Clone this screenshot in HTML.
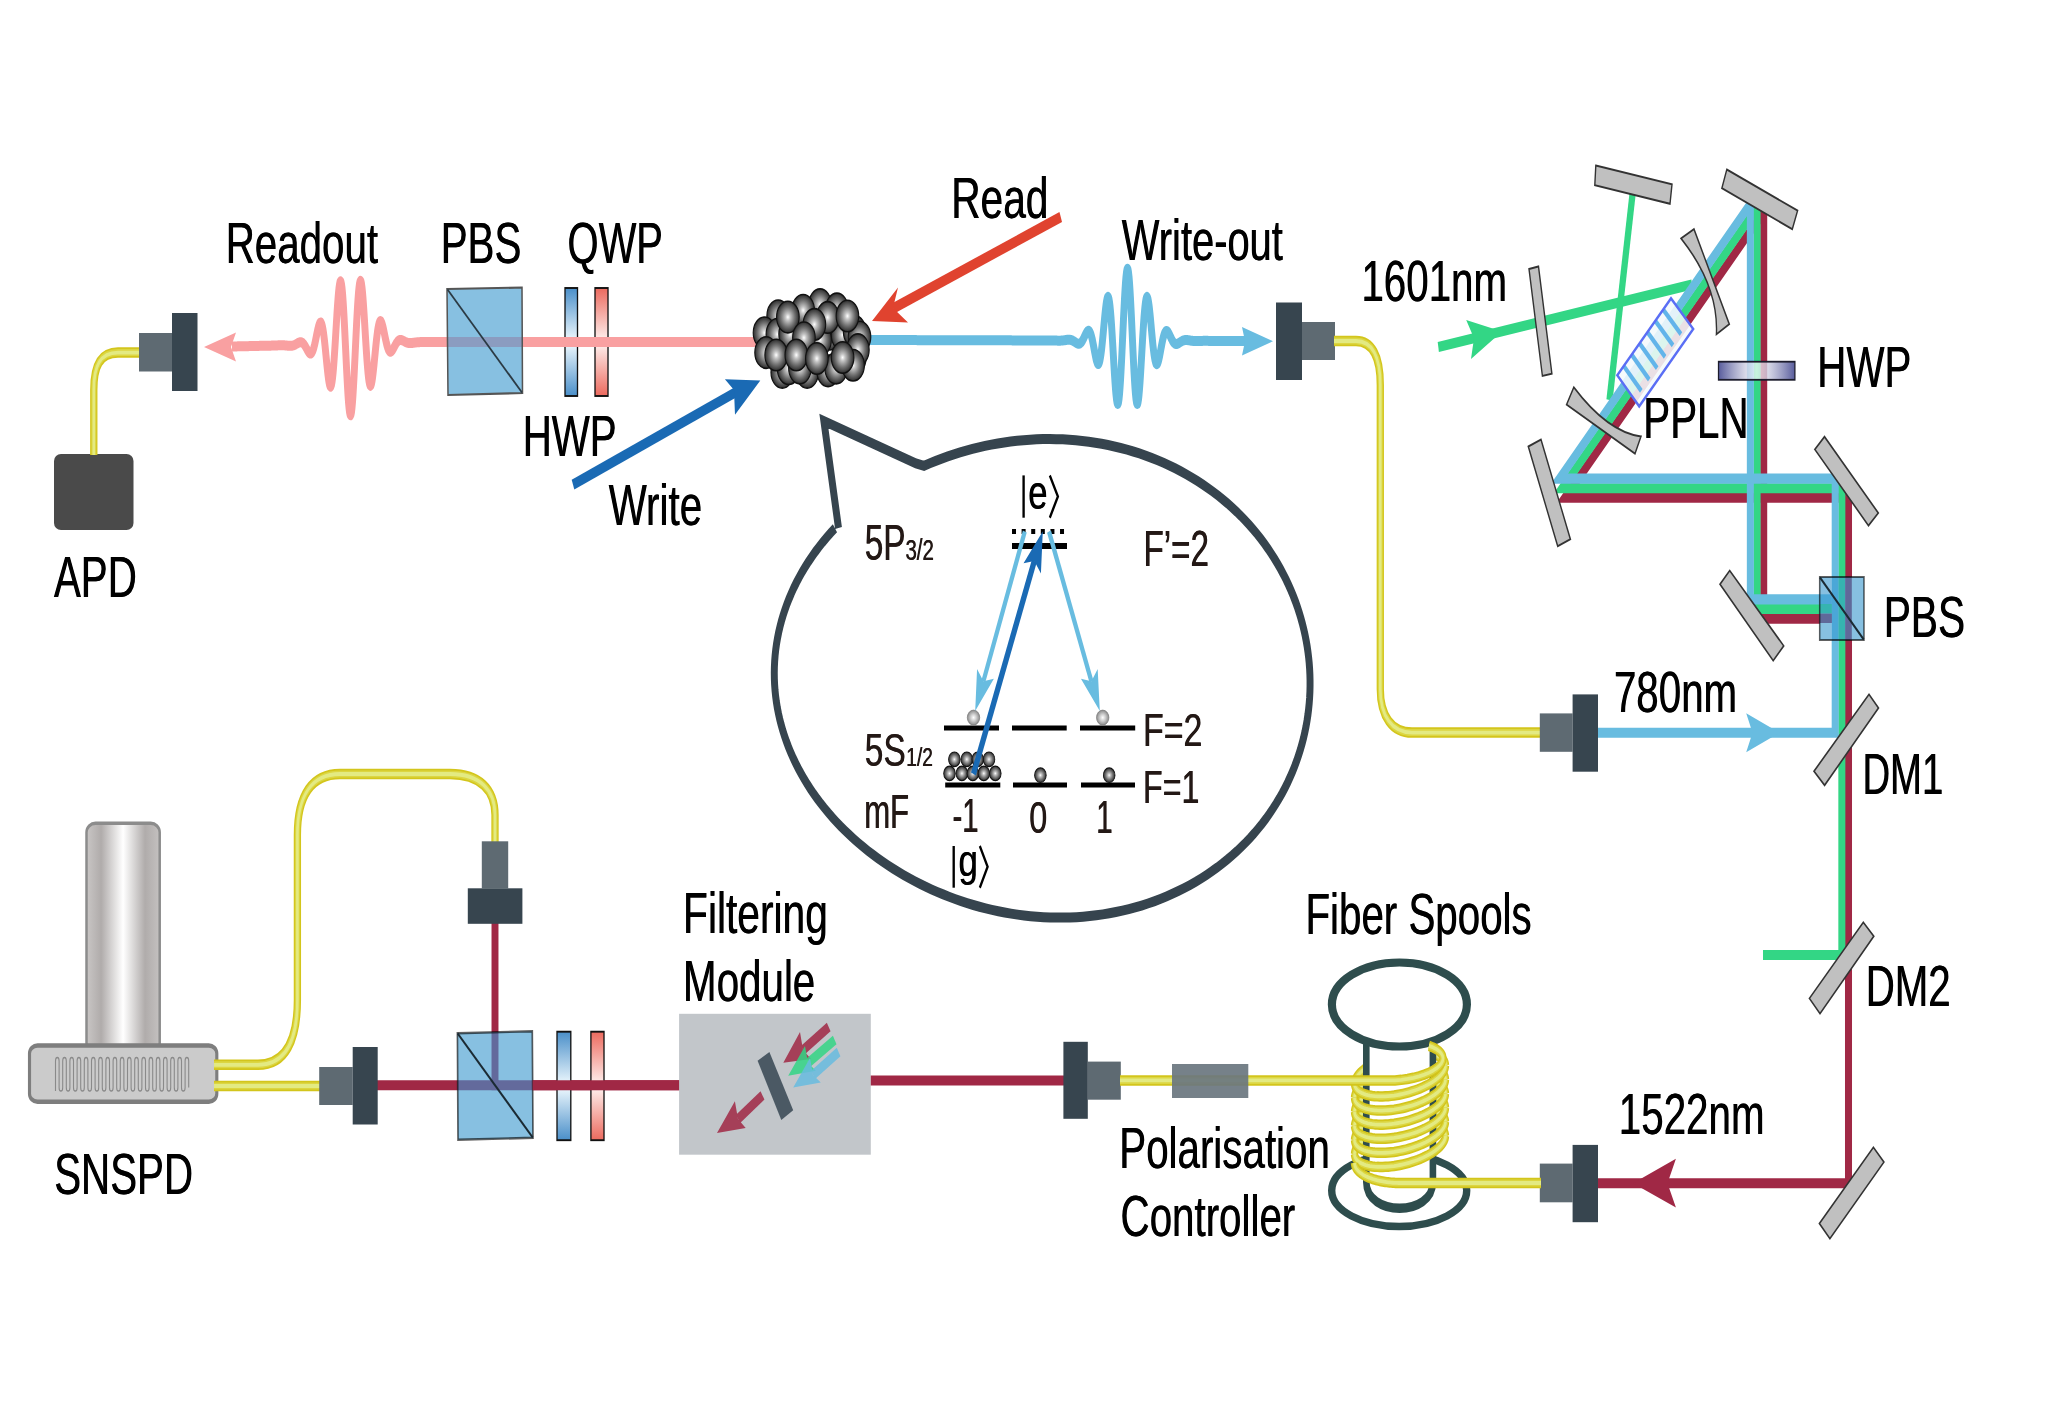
<!DOCTYPE html>
<html><head><meta charset="utf-8"><style>
html,body{margin:0;padding:0;background:#fff;width:2048px;height:1417px;overflow:hidden}
svg{display:block;will-change:transform}
text{font-family:"Liberation Sans",sans-serif}
</style></head><body>
<svg width="2048" height="1417" viewBox="0 0 2048 1417">
<rect x="0" y="0" width="2048" height="1417" fill="#ffffff"/>
<g transform="scale(0.695,1)">
<defs>
<linearGradient id="gPlateB" x1="0" y1="0" x2="0" y2="1">
 <stop offset="0" stop-color="#4a8fc9"/><stop offset="0.5" stop-color="#f2fbff"/><stop offset="1" stop-color="#4a8fc9"/>
</linearGradient>
<linearGradient id="gPlateR" x1="0" y1="0" x2="0" y2="1">
 <stop offset="0" stop-color="#ec6a5e"/><stop offset="0.5" stop-color="#fff4f2"/><stop offset="1" stop-color="#ec6a5e"/>
</linearGradient>
<radialGradient id="gBall" cx="0.5" cy="0.5" r="0.5">
 <stop offset="0" stop-color="#ffffff"/><stop offset="0.22" stop-color="#c4c4c4"/><stop offset="0.62" stop-color="#727272"/><stop offset="1" stop-color="#2c2c2c"/>
</radialGradient>
<radialGradient id="gBallL" cx="0.5" cy="0.5" r="0.5">
 <stop offset="0" stop-color="#ffffff"/><stop offset="0.5" stop-color="#c8c8c8"/><stop offset="1" stop-color="#8a8a8a"/>
</radialGradient>
<linearGradient id="gCyl" x1="0" y1="0" x2="1" y2="0">
 <stop offset="0" stop-color="#c9c6c5"/><stop offset="0.2" stop-color="#b0acab"/><stop offset="0.5" stop-color="#ffffff"/><stop offset="0.8" stop-color="#b0acab"/><stop offset="1" stop-color="#c4c1c0"/>
</linearGradient>
<linearGradient id="gHWP" x1="0" y1="0" x2="1" y2="0">
 <stop offset="0" stop-color="#585c9c"/><stop offset="0.5" stop-color="#ffffff" stop-opacity="0.72"/><stop offset="1" stop-color="#585c9c"/>
</linearGradient>
</defs>
<rect x="77.7" y="454" width="114.39" height="76" fill="#4a4a4a" rx="10.07" ry="7" />
<path d="M 200,352.6 L 169.78,352.6 C 143.88,352.6 134.96,366 134.96,390 L 134.96,455" fill="none" stroke="#d3c51c" stroke-width="10.5" stroke-linecap="butt" stroke-linejoin="round" />
<path d="M 200,352.6 L 169.78,352.6 C 143.88,352.6 134.96,366 134.96,390 L 134.96,455" fill="none" stroke="#dcd642" stroke-width="7" stroke-linecap="butt" stroke-linejoin="round" />
<path d="M 200,352.6 L 169.78,352.6 C 143.88,352.6 134.96,366 134.96,390 L 134.96,455" fill="none" stroke="#e3ea82" stroke-width="3.8" stroke-linecap="butt" stroke-linejoin="round" />
<rect x="200" y="333" width="47.48" height="38.5" fill="#5e6a72" />
<rect x="247.48" y="313" width="36.69" height="78" fill="#37454f" />
<rect x="812.95" y="288" width="17.99" height="108" fill="url(#gPlateB)" stroke="#111" stroke-width="1.9" />
<rect x="856.12" y="288" width="18.71" height="108" fill="url(#gPlateR)" stroke="#111" stroke-width="1.9" />
<polyline points="333.81,346.5 334.53,346.49 335.25,346.48 335.97,346.47 336.69,346.45 337.41,346.44 338.13,346.43 338.85,346.42 339.57,346.41 340.29,346.4 341.01,346.39 341.73,346.37 342.45,346.36 343.17,346.35 343.88,346.34 344.6,346.33 345.32,346.32 346.04,346.31 346.76,346.3 347.48,346.28 348.2,346.27 348.92,346.26 349.64,346.25 350.36,346.24 351.08,346.23 351.8,346.22 352.52,346.2 353.24,346.19 353.96,346.18 354.68,346.17 355.4,346.16 356.12,346.15 356.83,346.14 357.55,346.13 358.27,346.11 358.99,346.1 359.71,346.09 360.43,346.08 361.15,346.07 361.87,346.06 362.59,346.05 363.31,346.03 364.03,346.02 364.75,346.01 365.47,346 366.19,345.99 366.91,345.98 367.63,345.97 368.35,345.95 369.06,345.94 369.78,345.93 370.5,345.92 371.22,345.91 371.94,345.9 372.66,345.88 373.38,345.87 374.1,345.86 374.82,345.85 375.54,345.84 376.26,345.83 376.98,345.82 377.7,345.81 378.42,345.79 379.14,345.78 379.86,345.77 380.58,345.76 381.29,345.75 382.01,345.74 382.73,345.73 383.45,345.72 384.17,345.71 384.89,345.7 385.61,345.69 386.33,345.68 387.05,345.67 387.77,345.66 388.49,345.65 389.21,345.64 389.93,345.63 390.65,345.62 391.37,345.6 392.09,345.59 392.81,345.57 393.53,345.56 394.24,345.54 394.96,345.52 395.68,345.5 396.4,345.48 397.12,345.46 397.84,345.44 398.56,345.41 399.28,345.39 400,345.37 400.72,345.35 401.44,345.33 402.16,345.31 402.88,345.29 403.6,345.28 404.32,345.27 405.04,345.27 405.76,345.27 406.47,345.27 407.19,345.28 407.91,345.3 408.63,345.33 409.35,345.36 410.07,345.4 410.79,345.44 411.51,345.49 412.23,345.54 412.95,345.59 413.67,345.64 414.39,345.69 415.11,345.74 415.83,345.78 416.55,345.81 417.27,345.82 417.99,345.82 418.71,345.8 419.42,345.76 420.14,345.69 420.86,345.59 421.58,345.47 422.3,345.32 423.02,345.14 423.74,344.93 424.46,344.7 425.18,344.44 425.9,344.17 426.62,343.88 427.34,343.59 428.06,343.3 428.78,343.03 429.5,342.78 430.22,342.56 430.94,342.38 431.65,342.26 432.37,342.21 433.09,342.23 433.81,342.34 434.53,342.54 435.25,342.84 435.97,343.24 436.69,343.74 437.41,344.34 438.13,345.04 438.85,345.81 439.57,346.66 440.29,347.55 441.01,348.48 441.73,349.41 442.45,350.31 443.17,351.17 443.88,351.95 444.6,352.61 445.32,353.12 446.04,353.45 446.76,353.57 447.48,353.46 448.2,353.1 448.92,352.46 449.64,351.54 450.36,350.34 451.08,348.86 451.8,347.12 452.52,345.15 453.24,342.97 453.96,340.63 454.68,338.18 455.4,335.68 456.12,333.2 456.83,330.8 457.55,328.57 458.27,326.57 458.99,324.89 459.71,323.59 460.43,322.74 461.15,322.4 461.87,322.62 462.59,323.44 463.31,324.88 464.03,326.94 464.75,329.62 465.47,332.88 466.19,336.67 466.91,340.94 467.63,345.58 468.35,350.51 469.06,355.6 469.78,360.74 470.5,365.77 471.22,370.57 471.94,374.98 472.66,378.87 473.38,382.1 474.1,384.55 474.82,386.1 475.54,386.68 476.26,386.22 476.98,384.67 477.7,382.02 478.42,378.29 479.14,373.53 479.86,367.82 480.58,361.26 481.29,353.99 482.01,346.17 482.73,337.99 483.45,329.65 484.17,321.35 484.89,313.31 485.61,305.76 486.33,298.9 487.05,292.93 487.77,288.05 488.49,284.39 489.21,282.11 489.93,281.28 490.65,281.97 491.37,284.2 492.09,287.95 492.81,293.15 493.53,299.7 494.24,307.46 494.96,316.24 495.68,325.85 496.4,336.04 497.12,346.57 497.84,357.17 498.56,367.58 499.28,377.51 500,386.73 500.72,394.97 501.44,402.04 502.16,407.73 502.88,411.91 503.6,414.46 504.32,415.31 505.04,414.43 505.76,411.87 506.47,407.66 507.19,401.95 507.91,394.86 508.63,386.59 509.35,377.35 510.07,367.4 510.79,356.97 511.51,346.35 512.23,335.79 512.95,325.57 513.67,315.95 514.39,307.14 515.11,299.36 515.83,292.79 516.55,287.57 517.27,283.8 517.99,281.54 518.71,280.83 519.42,281.63 520.14,283.89 520.86,287.52 521.58,292.39 522.3,298.33 523.02,305.17 523.74,312.7 524.46,320.71 525.18,328.99 525.9,337.31 526.62,345.47 527.34,353.26 528.06,360.51 528.78,367.05 529.5,372.74 530.22,377.48 530.94,381.18 531.65,383.81 532.37,385.33 533.09,385.78 533.81,385.17 534.53,383.59 535.25,381.12 535.97,377.87 536.69,373.96 537.41,369.52 538.13,364.7 538.85,359.64 539.57,354.49 540.29,349.37 541.01,344.42 541.73,339.75 542.45,335.47 543.17,331.65 543.88,328.37 544.6,325.67 545.32,323.58 546.04,322.12 546.76,321.28 547.48,321.04 548.2,321.35 548.92,322.18 549.64,323.45 550.36,325.12 551.08,327.09 551.8,329.3 552.52,331.68 553.24,334.14 553.96,336.61 554.68,339.04 555.4,341.36 556.12,343.51 556.83,345.47 557.55,347.18 558.27,348.64 558.99,349.81 559.71,350.71 560.43,351.32 561.15,351.67 561.87,351.75 562.59,351.61 563.31,351.25 564.03,350.72 564.75,350.04 565.47,349.24 566.19,348.36 566.91,347.43 567.63,346.48 568.35,345.53 569.06,344.61 569.78,343.74 570.5,342.95 571.22,342.23 571.94,341.61 572.66,341.08 573.38,340.66 574.1,340.34 574.82,340.11 575.54,339.98 576.26,339.94 576.98,339.97 577.7,340.06 578.42,340.22 579.14,340.41 579.86,340.64 580.58,340.89 581.29,341.16 582.01,341.43 582.73,341.69 583.45,341.94 584.17,342.17 584.89,342.38 585.61,342.57 586.33,342.73 587.05,342.86 587.77,342.96 588.49,343.03 589.21,343.07 589.93,343.09 590.65,343.09 591.37,343.07 592.09,343.03 592.81,342.98 593.53,342.92 594.24,342.85 594.96,342.78 595.68,342.71 596.4,342.63 597.12,342.56 597.84,342.49 598.56,342.42 599.28,342.36 600,342.31 600.72,342.26 601.44,342.22 602.16,342.18 602.88,342.15 603.6,342.13 604.32,342.11 605.04,342.1 605.76,342.09 606.47,342.08 607.19,342.08 607.91,342.07 608.63,342.07 609.35,342.07 610.07,342.07 610.79,342.07 611.51,342.07 612.23,342.07 612.95,342.07 613.67,342.07 614.39,342.06 615.11,342.06 615.83,342.05 616.55,342.04 617.27,342.04 617.99,342.03 618.71,342.02 619.42,342.02 620.14,342.02 620.86,342.02 621.58,342.01 622.3,342.01 623.02,342.01 623.74,342.01 624.46,342.01 625.18,342.01 625.9,342.01 626.62,342 627.34,342 628.06,342 628.78,342 629.5,342 630.22,342 630.94,342 631.65,342 632.37,342 633.09,342 633.81,342 634.53,342 635.25,342 635.97,342 636.69,342 637.41,342 638.13,342 638.85,342 639.57,342 640.29,342 641.01,342 641.73,342 642.45,342 643.17,342 643.88,342 644.6,342 645.32,342 646.04,342 646.76,342 647.48,342 648.2,342 648.92,342 649.64,342 650.36,342 651.08,342 651.8,342 652.52,342 653.24,342 653.96,342 654.68,342 655.4,342 656.12,342 656.83,342 657.55,342 658.27,342 658.99,342 659.71,342 660.43,342 661.15,342 661.87,342 662.59,342 663.31,342 664.03,342 664.75,342 665.47,342 666.19,342 666.91,342 667.63,342 668.35,342 669.06,342 669.78,342 670.5,342 671.22,342 671.94,342 672.66,342 673.38,342 674.1,342 674.82,342 675.54,342 676.26,342 676.98,342 677.7,342 678.42,342 679.14,342 679.86,342 680.58,342 681.29,342 682.01,342 682.73,342 683.45,342 684.17,342 684.89,342 685.61,342 686.33,342 687.05,342 687.77,342 688.49,342 689.21,342 689.93,342 690.65,342 691.37,342 692.09,342 692.81,342 693.53,342 694.24,342 694.96,342 695.68,342 696.4,342 697.12,342 697.84,342 698.56,342 699.28,342 700,342 700.72,342 701.44,342 702.16,342 702.88,342 703.6,342 704.32,342 705.04,342 705.76,342 706.47,342 707.19,342 707.91,342 708.63,342 709.35,342 710.07,342 710.79,342 711.51,342 712.23,342 712.95,342 713.67,342 714.39,342 715.11,342 715.83,342 716.55,342 717.27,342 717.99,342 718.71,342 719.42,342 720.14,342 720.86,342 721.58,342 722.3,342 723.02,342 723.74,342 724.46,342 725.18,342 725.9,342 726.62,342 727.34,342 728.06,342 728.78,342 729.5,342 730.22,342 730.94,342 731.65,342 732.37,342 733.09,342 733.81,342 734.53,342 735.25,342 735.97,342 736.69,342 737.41,342 738.13,342 738.85,342 739.57,342 740.29,342 741.01,342 741.73,342 742.45,342 743.17,342 743.88,342 744.6,342 745.32,342 746.04,342 746.76,342 747.48,342 748.2,342 748.92,342 749.64,342 750.36,342 751.08,342 751.8,342 752.52,342 753.24,342 753.96,342 754.68,342 755.4,342 756.12,342 756.83,342 757.55,342 758.27,342 758.99,342 759.71,342 760.43,342 761.15,342 761.87,342 762.59,342 763.31,342 764.03,342 764.75,342 765.47,342 766.19,342 766.91,342 767.63,342 768.35,342 769.06,342 769.78,342 770.5,342 771.22,342 771.94,342 772.66,342 773.38,342 774.1,342 774.82,342 775.54,342 776.26,342 776.98,342 777.7,342 778.42,342 779.14,342 779.86,342 780.58,342 781.29,342 782.01,342 782.73,342 783.45,342 784.17,342 784.89,342 785.61,342 786.33,342 787.05,342 787.77,342 788.49,342 789.21,342 789.93,342 790.65,342 791.37,342 792.09,342 792.81,342 793.53,342 794.24,342 794.96,342 795.68,342 796.4,342 797.12,342 797.84,342 798.56,342 799.28,342 800,342 800.72,342 801.44,342 802.16,342 802.88,342 803.6,342 804.32,342 805.04,342 805.76,342 806.47,342 807.19,342 807.91,342 808.63,342 809.35,342 810.07,342 810.79,342 811.51,342 812.23,342 812.95,342 813.67,342 814.39,342 815.11,342 815.83,342 816.55,342 817.27,342 817.99,342 818.71,342 819.42,342 820.14,342 820.86,342 821.58,342 822.3,342 823.02,342 823.74,342 824.46,342 825.18,342 825.9,342 826.62,342 827.34,342 828.06,342 828.78,342 829.5,342 830.22,342 830.94,342 831.65,342 832.37,342 833.09,342 833.81,342 834.53,342 835.25,342 835.97,342 836.69,342 837.41,342 838.13,342 838.85,342 839.57,342 840.29,342 841.01,342 841.73,342 842.45,342 843.17,342 843.88,342 844.6,342 845.32,342 846.04,342 846.76,342 847.48,342 848.2,342 848.92,342 849.64,342 850.36,342 851.08,342 851.8,342 852.52,342 853.24,342 853.96,342 854.68,342 855.4,342 856.12,342 856.83,342 857.55,342 858.27,342 858.99,342 859.71,342 860.43,342 861.15,342 861.87,342 862.59,342 863.31,342 864.03,342 864.75,342 865.47,342 866.19,342 866.91,342 867.63,342 868.35,342 869.06,342 869.78,342 870.5,342 871.22,342 871.94,342 872.66,342 873.38,342 874.1,342 874.82,342 875.54,342 876.26,342 876.98,342 877.7,342 878.42,342 879.14,342 879.86,342 880.58,342 881.29,342 882.01,342 882.73,342 883.45,342 884.17,342 884.89,342 885.61,342 886.33,342 887.05,342 887.77,342 888.49,342 889.21,342 889.93,342 890.65,342 891.37,342 892.09,342 892.81,342 893.53,342 894.24,342 894.96,342 895.68,342 896.4,342 897.12,342 897.84,342 898.56,342 899.28,342 900,342 900.72,342 901.44,342 902.16,342 902.88,342 903.6,342 904.32,342 905.04,342 905.76,342 906.47,342 907.19,342 907.91,342 908.63,342 909.35,342 910.07,342 910.79,342 911.51,342 912.23,342 912.95,342 913.67,342 914.39,342 915.11,342 915.83,342 916.55,342 917.27,342 917.99,342 918.71,342 919.42,342 920.14,342 920.86,342 921.58,342 922.3,342 923.02,342 923.74,342 924.46,342 925.18,342 925.9,342 926.62,342 927.34,342 928.06,342 928.78,342 929.5,342 930.22,342 930.94,342 931.65,342 932.37,342 933.09,342 933.81,342 934.53,342 935.25,342 935.97,342 936.69,342 937.41,342 938.13,342 938.85,342 939.57,342 940.29,342 941.01,342 941.73,342 942.45,342 943.17,342 943.88,342 944.6,342 945.32,342 946.04,342 946.76,342 947.48,342 948.2,342 948.92,342 949.64,342 950.36,342 951.08,342 951.8,342 952.52,342 953.24,342 953.96,342 954.68,342 955.4,342 956.12,342 956.83,342 957.55,342 958.27,342 958.99,342 959.71,342 960.43,342 961.15,342 961.87,342 962.59,342 963.31,342 964.03,342 964.75,342 965.47,342 966.19,342 966.91,342 967.63,342 968.35,342 969.06,342 969.78,342 970.5,342 971.22,342 971.94,342 972.66,342 973.38,342 974.1,342 974.82,342 975.54,342 976.26,342 976.98,342 977.7,342 978.42,342 979.14,342 979.86,342 980.58,342 981.29,342 982.01,342 982.73,342 983.45,342 984.17,342 984.89,342 985.61,342 986.33,342 987.05,342 987.77,342 988.49,342 989.21,342 989.93,342 990.65,342 991.37,342 992.09,342 992.81,342 993.53,342 994.24,342 994.96,342 995.68,342 996.4,342 997.12,342 997.84,342 998.56,342 999.28,342 1000,342 1000.72,342 1001.44,342 1002.16,342 1002.88,342 1003.6,342 1004.32,342 1005.04,342 1005.76,342 1006.47,342 1007.19,342 1007.91,342 1008.63,342 1009.35,342 1010.07,342 1010.79,342 1011.51,342 1012.23,342 1012.95,342 1013.67,342 1014.39,342 1015.11,342 1015.83,342 1016.55,342 1017.27,342 1017.99,342 1018.71,342 1019.42,342 1020.14,342 1020.86,342 1021.58,342 1022.3,342 1023.02,342 1023.74,342 1024.46,342 1025.18,342 1025.9,342 1026.62,342 1027.34,342 1028.06,342 1028.78,342 1029.5,342 1030.22,342 1030.94,342 1031.65,342 1032.37,342 1033.09,342 1033.81,342 1034.53,342 1035.25,342 1035.97,342 1036.69,342 1037.41,342 1038.13,342 1038.85,342 1039.57,342 1040.29,342 1041.01,342 1041.73,342 1042.45,342 1043.17,342 1043.88,342 1044.6,342 1045.32,342 1046.04,342 1046.76,342 1047.48,342 1048.2,342 1048.92,342 1049.64,342 1050.36,342 1051.08,342 1051.8,342 1052.52,342 1053.24,342 1053.96,342 1054.68,342 1055.4,342 1056.12,342 1056.83,342 1057.55,342 1058.27,342 1058.99,342 1059.71,342 1060.43,342 1061.15,342 1061.87,342 1062.59,342 1063.31,342 1064.03,342 1064.75,342 1065.47,342 1066.19,342 1066.91,342 1067.63,342 1068.35,342 1069.06,342 1069.78,342 1070.5,342 1071.22,342 1071.94,342 1072.66,342 1073.38,342 1074.1,342 1074.82,342 1075.54,342 1076.26,342 1076.98,342 1077.7,342 1078.42,342 1079.14,342 1079.86,342 1080.58,342 1081.29,342 1082.01,342 1082.73,342 1083.45,342 1084.17,342 1084.89,342 1085.61,342 1086.33,342 1087.05,342 1087.77,342 1088.49,342 1089.21,342 1089.93,342 1090.65,342 1091.37,342 1092.09,342 1092.81,342 1093.53,342" fill="none" stroke="#f9a0a1" stroke-width="10" stroke-linecap="butt" stroke-linejoin="round" />
<polygon points="293.53,347 339.57,332.5 332.37,347 339.57,361.5" fill="#f9a0a1" />
<polygon points="643.17,289 751.08,287.5 751.8,393 644.6,395" fill="#87c0e1" />
<polyline points="644.6,342 661.87,342 690.65,342 719.42,342 751.51,342" fill="none" stroke="#8b9cc0" stroke-width="10" stroke-linecap="butt" stroke-linejoin="miter" />
<polygon points="643.17,289 751.08,287.5 751.8,393 644.6,395" fill="none" stroke="#555" stroke-width="2.2" stroke-linejoin="miter" />
<line x1="643.88" y1="289.5" x2="751.08" y2="392.5" stroke="#2b3a44" stroke-width="2.2" stroke-linecap="butt" />
<polyline points="1246.04,339.99 1246.76,339.99 1247.48,339.99 1248.2,340 1248.92,340 1249.64,340 1250.36,340 1251.08,340 1251.8,340 1252.52,340 1253.24,340.01 1253.96,340.01 1254.68,340.01 1255.4,340.01 1256.12,340.01 1256.83,340.01 1257.55,340.01 1258.27,340.01 1258.99,340.02 1259.71,340.02 1260.43,340.02 1261.15,340.02 1261.87,340.02 1262.59,340.02 1263.31,340.02 1264.03,340.02 1264.75,340.03 1265.47,340.03 1266.19,340.03 1266.91,340.03 1267.63,340.03 1268.35,340.03 1269.06,340.03 1269.78,340.04 1270.5,340.04 1271.22,340.04 1271.94,340.04 1272.66,340.04 1273.38,340.04 1274.1,340.04 1274.82,340.04 1275.54,340.05 1276.26,340.05 1276.98,340.05 1277.7,340.05 1278.42,340.05 1279.14,340.05 1279.86,340.05 1280.58,340.06 1281.29,340.06 1282.01,340.06 1282.73,340.06 1283.45,340.06 1284.17,340.06 1284.89,340.06 1285.61,340.06 1286.33,340.07 1287.05,340.07 1287.77,340.07 1288.49,340.07 1289.21,340.07 1289.93,340.07 1290.65,340.07 1291.37,340.07 1292.09,340.08 1292.81,340.08 1293.53,340.08 1294.24,340.08 1294.96,340.08 1295.68,340.08 1296.4,340.08 1297.12,340.09 1297.84,340.09 1298.56,340.09 1299.28,340.09 1300,340.09 1300.72,340.09 1301.44,340.09 1302.16,340.09 1302.88,340.1 1303.6,340.1 1304.32,340.1 1305.04,340.1 1305.76,340.1 1306.47,340.1 1307.19,340.1 1307.91,340.1 1308.63,340.11 1309.35,340.11 1310.07,340.11 1310.79,340.11 1311.51,340.11 1312.23,340.11 1312.95,340.11 1313.67,340.12 1314.39,340.12 1315.11,340.12 1315.83,340.12 1316.55,340.12 1317.27,340.12 1317.99,340.12 1318.71,340.12 1319.42,340.13 1320.14,340.13 1320.86,340.13 1321.58,340.13 1322.3,340.13 1323.02,340.13 1323.74,340.13 1324.46,340.14 1325.18,340.14 1325.9,340.14 1326.62,340.14 1327.34,340.14 1328.06,340.14 1328.78,340.14 1329.5,340.14 1330.22,340.15 1330.94,340.15 1331.65,340.15 1332.37,340.15 1333.09,340.15 1333.81,340.15 1334.53,340.15 1335.25,340.15 1335.97,340.16 1336.69,340.16 1337.41,340.16 1338.13,340.16 1338.85,340.16 1339.57,340.16 1340.29,340.16 1341.01,340.17 1341.73,340.17 1342.45,340.17 1343.17,340.17 1343.88,340.17 1344.6,340.17 1345.32,340.17 1346.04,340.17 1346.76,340.18 1347.48,340.18 1348.2,340.18 1348.92,340.18 1349.64,340.18 1350.36,340.18 1351.08,340.18 1351.8,340.19 1352.52,340.19 1353.24,340.19 1353.96,340.19 1354.68,340.19 1355.4,340.19 1356.12,340.19 1356.83,340.19 1357.55,340.2 1358.27,340.2 1358.99,340.2 1359.71,340.2 1360.43,340.2 1361.15,340.2 1361.87,340.2 1362.59,340.2 1363.31,340.21 1364.03,340.21 1364.75,340.21 1365.47,340.21 1366.19,340.21 1366.91,340.21 1367.63,340.21 1368.35,340.22 1369.06,340.22 1369.78,340.22 1370.5,340.22 1371.22,340.22 1371.94,340.22 1372.66,340.22 1373.38,340.22 1374.1,340.23 1374.82,340.23 1375.54,340.23 1376.26,340.23 1376.98,340.23 1377.7,340.23 1378.42,340.23 1379.14,340.23 1379.86,340.24 1380.58,340.24 1381.29,340.24 1382.01,340.24 1382.73,340.24 1383.45,340.24 1384.17,340.24 1384.89,340.25 1385.61,340.25 1386.33,340.25 1387.05,340.25 1387.77,340.25 1388.49,340.25 1389.21,340.25 1389.93,340.25 1390.65,340.26 1391.37,340.26 1392.09,340.26 1392.81,340.26 1393.53,340.26 1394.24,340.26 1394.96,340.26 1395.68,340.27 1396.4,340.27 1397.12,340.27 1397.84,340.27 1398.56,340.27 1399.28,340.27 1400,340.27 1400.72,340.27 1401.44,340.28 1402.16,340.28 1402.88,340.28 1403.6,340.28 1404.32,340.28 1405.04,340.28 1405.76,340.28 1406.47,340.28 1407.19,340.29 1407.91,340.29 1408.63,340.29 1409.35,340.29 1410.07,340.29 1410.79,340.29 1411.51,340.29 1412.23,340.3 1412.95,340.3 1413.67,340.3 1414.39,340.3 1415.11,340.3 1415.83,340.3 1416.55,340.3 1417.27,340.3 1417.99,340.31 1418.71,340.31 1419.42,340.31 1420.14,340.31 1420.86,340.31 1421.58,340.31 1422.3,340.31 1423.02,340.31 1423.74,340.32 1424.46,340.32 1425.18,340.32 1425.9,340.32 1426.62,340.32 1427.34,340.32 1428.06,340.32 1428.78,340.33 1429.5,340.33 1430.22,340.33 1430.94,340.33 1431.65,340.33 1432.37,340.33 1433.09,340.33 1433.81,340.33 1434.53,340.34 1435.25,340.34 1435.97,340.34 1436.69,340.34 1437.41,340.34 1438.13,340.34 1438.85,340.34 1439.57,340.35 1440.29,340.35 1441.01,340.35 1441.73,340.35 1442.45,340.35 1443.17,340.35 1443.88,340.35 1444.6,340.35 1445.32,340.36 1446.04,340.36 1446.76,340.36 1447.48,340.36 1448.2,340.36 1448.92,340.36 1449.64,340.36 1450.36,340.36 1451.08,340.37 1451.8,340.37 1452.52,340.37 1453.24,340.37 1453.96,340.37 1454.68,340.37 1455.4,340.37 1456.12,340.38 1456.83,340.38 1457.55,340.38 1458.27,340.38 1458.99,340.38 1459.71,340.38 1460.43,340.38 1461.15,340.38 1461.87,340.39 1462.59,340.39 1463.31,340.39 1464.03,340.39 1464.75,340.39 1465.47,340.39 1466.19,340.39 1466.91,340.4 1467.63,340.4 1468.35,340.4 1469.06,340.4 1469.78,340.4 1470.5,340.4 1471.22,340.4 1471.94,340.4 1472.66,340.41 1473.38,340.41 1474.1,340.41 1474.82,340.41 1475.54,340.41 1476.26,340.41 1476.98,340.41 1477.7,340.41 1478.42,340.42 1479.14,340.42 1479.86,340.42 1480.58,340.42 1481.29,340.42 1482.01,340.42 1482.73,340.42 1483.45,340.42 1484.17,340.43 1484.89,340.43 1485.61,340.43 1486.33,340.43 1487.05,340.43 1487.77,340.43 1488.49,340.44 1489.21,340.44 1489.93,340.44 1490.65,340.44 1491.37,340.44 1492.09,340.44 1492.81,340.44 1493.53,340.45 1494.24,340.45 1494.96,340.45 1495.68,340.45 1496.4,340.45 1497.12,340.45 1497.84,340.45 1498.56,340.45 1499.28,340.46 1500,340.46 1500.72,340.46 1501.44,340.46 1502.16,340.45 1502.88,340.45 1503.6,340.45 1504.32,340.45 1505.04,340.45 1505.76,340.45 1506.47,340.45 1507.19,340.45 1507.91,340.45 1508.63,340.45 1509.35,340.45 1510.07,340.45 1510.79,340.45 1511.51,340.45 1512.23,340.46 1512.95,340.46 1513.67,340.47 1514.39,340.48 1515.11,340.49 1515.83,340.5 1516.55,340.52 1517.27,340.53 1517.99,340.55 1518.71,340.57 1519.42,340.59 1520.14,340.6 1520.86,340.62 1521.58,340.63 1522.3,340.65 1523.02,340.66 1523.74,340.66 1524.46,340.66 1525.18,340.65 1525.9,340.64 1526.62,340.62 1527.34,340.59 1528.06,340.55 1528.78,340.51 1529.5,340.45 1530.22,340.39 1530.94,340.32 1531.65,340.25 1532.37,340.17 1533.09,340.08 1533.81,340 1534.53,339.92 1535.25,339.85 1535.97,339.79 1536.69,339.74 1537.41,339.72 1538.13,339.71 1538.85,339.73 1539.57,339.78 1540.29,339.86 1541.01,339.97 1541.73,340.12 1542.45,340.31 1543.17,340.53 1543.88,340.79 1544.6,341.08 1545.32,341.39 1546.04,341.72 1546.76,342.05 1547.48,342.39 1548.2,342.72 1548.92,343.03 1549.64,343.3 1550.36,343.52 1551.08,343.67 1551.8,343.75 1552.52,343.74 1553.24,343.64 1553.96,343.42 1554.68,343.08 1555.4,342.63 1556.12,342.05 1556.83,341.36 1557.55,340.56 1558.27,339.66 1558.99,338.68 1559.71,337.64 1560.43,336.56 1561.15,335.48 1561.87,334.43 1562.59,333.44 1563.31,332.55 1564.03,331.8 1564.75,331.22 1565.47,330.86 1566.19,330.74 1566.91,330.89 1567.63,331.34 1568.35,332.11 1569.06,333.2 1569.78,334.61 1570.5,336.32 1571.22,338.33 1571.94,340.59 1572.66,343.06 1573.38,345.68 1574.1,348.4 1574.82,351.14 1575.54,353.83 1576.26,356.37 1576.98,358.69 1577.7,360.7 1578.42,362.31 1579.14,363.44 1579.86,364.04 1580.58,364.03 1581.29,363.37 1582.01,362.03 1582.73,360.01 1583.45,357.31 1584.17,353.96 1584.89,350 1585.61,345.53 1586.33,340.61 1587.05,335.38 1587.77,329.94 1588.49,324.46 1589.21,319.06 1589.93,313.93 1590.65,309.2 1591.37,305.05 1592.09,301.61 1592.81,299.02 1593.53,297.4 1594.24,296.84 1594.96,297.42 1595.68,299.17 1596.4,302.1 1597.12,306.18 1597.84,311.36 1598.56,317.54 1599.28,324.59 1600,332.35 1600.72,340.64 1601.44,349.25 1602.16,357.97 1602.88,366.55 1603.6,374.76 1604.32,382.36 1605.04,389.12 1605.76,394.84 1606.47,399.33 1607.19,402.44 1607.91,404.03 1608.63,404.03 1609.35,402.41 1610.07,399.16 1610.79,394.34 1611.51,388.05 1612.23,380.42 1612.95,371.63 1613.67,361.91 1614.39,351.5 1615.11,340.67 1615.83,329.69 1616.55,318.87 1617.27,308.49 1617.99,298.83 1618.71,290.16 1619.42,282.72 1620.14,276.71 1620.86,272.29 1621.58,269.59 1622.3,268.68 1623.02,269.59 1623.74,272.29 1624.46,276.71 1625.18,282.73 1625.9,290.18 1626.62,298.85 1627.34,308.51 1628.06,318.89 1628.78,329.71 1629.5,340.69 1630.22,351.53 1630.94,361.94 1631.65,371.67 1632.37,380.45 1633.09,388.09 1633.81,394.38 1634.53,399.21 1635.25,402.46 1635.97,404.08 1636.69,404.08 1637.41,402.49 1638.13,399.39 1638.85,394.9 1639.57,389.19 1640.29,382.42 1641.01,374.83 1641.73,366.62 1642.45,358.04 1643.17,349.33 1643.88,340.72 1644.6,332.43 1645.32,324.67 1646.04,317.62 1646.76,311.45 1647.48,306.28 1648.2,302.19 1648.92,299.27 1649.64,297.52 1650.36,296.95 1651.08,297.5 1651.8,299.13 1652.52,301.72 1653.24,305.16 1653.96,309.32 1654.68,314.05 1655.4,319.19 1656.12,324.58 1656.83,330.07 1657.55,335.5 1658.27,340.74 1658.99,345.66 1659.71,350.14 1660.43,354.09 1661.15,357.45 1661.87,360.15 1662.59,362.18 1663.31,363.52 1664.03,364.18 1664.75,364.19 1665.47,363.6 1666.19,362.47 1666.91,360.86 1667.63,358.86 1668.35,356.54 1669.06,354 1669.78,351.32 1670.5,348.58 1671.22,345.86 1671.94,343.24 1672.66,340.77 1673.38,338.51 1674.1,336.51 1674.82,334.8 1675.54,333.39 1676.26,332.31 1676.98,331.54 1677.7,331.09 1678.42,330.94 1679.14,331.06 1679.86,331.43 1680.58,332.01 1681.29,332.76 1682.01,333.66 1682.73,334.65 1683.45,335.71 1684.17,336.79 1684.89,337.87 1685.61,338.91 1686.33,339.89 1687.05,340.8 1687.77,341.6 1688.49,342.3 1689.21,342.87 1689.93,343.33 1690.65,343.67 1691.37,343.89 1692.09,344 1692.81,344.01 1693.53,343.93 1694.24,343.78 1694.96,343.56 1695.68,343.29 1696.4,342.99 1697.12,342.67 1697.84,342.33 1698.56,341.99 1699.28,341.67 1700,341.36 1700.72,341.08 1701.44,340.82 1702.16,340.6 1702.88,340.42 1703.6,340.27 1704.32,340.16 1705.04,340.08 1705.76,340.03 1706.47,340.02 1707.19,340.03 1707.91,340.06 1708.63,340.11 1709.35,340.17 1710.07,340.24 1710.79,340.32 1711.51,340.41 1712.23,340.49 1712.95,340.58 1713.67,340.65 1714.39,340.73 1715.11,340.79 1715.83,340.85 1716.55,340.9 1717.27,340.94 1717.99,340.97 1718.71,340.99 1719.42,341.01 1720.14,341.02 1720.86,341.02 1721.58,341.02 1722.3,341.01 1723.02,341 1723.74,340.99 1724.46,340.98 1725.18,340.96 1725.9,340.95 1726.62,340.93 1727.34,340.92 1728.06,340.9 1728.78,340.89 1729.5,340.88 1730.22,340.88 1730.94,340.87 1731.65,340.86 1732.37,340.86 1733.09,340.86 1733.81,340.86 1734.53,340.86 1735.25,340.86 1735.97,340.86 1736.69,340.86 1737.41,340.87 1738.13,340.87 1738.85,340.88 1739.57,340.88 1740.29,340.88 1741.01,340.89 1741.73,340.89 1742.45,340.89 1743.17,340.9 1743.88,340.9 1744.6,340.9 1745.32,340.9 1746.04,340.91 1746.76,340.91 1747.48,340.91 1748.2,340.91 1748.92,340.91 1749.64,340.91 1750.36,340.91 1751.08,340.92 1751.8,340.92 1752.52,340.92 1753.24,340.92 1753.96,340.92 1754.68,340.92 1755.4,340.92 1756.12,340.92 1756.83,340.92 1757.55,340.93 1758.27,340.93 1758.99,340.93 1759.71,340.93 1760.43,340.93 1761.15,340.93 1761.87,340.93 1762.59,340.93 1763.31,340.94 1764.03,340.94 1764.75,340.94 1765.47,340.94 1766.19,340.94 1766.91,340.94 1767.63,340.94 1768.35,340.94 1769.06,340.95 1769.78,340.95 1770.5,340.95 1771.22,340.95 1771.94,340.95 1772.66,340.95 1773.38,340.95 1774.1,340.96 1774.82,340.96 1775.54,340.96 1776.26,340.96 1776.98,340.96 1777.7,340.96 1778.42,340.96 1779.14,340.96 1779.86,340.97 1780.58,340.97 1781.29,340.97 1782.01,340.97 1782.73,340.97 1783.45,340.97 1784.17,340.97 1784.89,340.98 1785.61,340.98 1786.33,340.98 1787.05,340.98 1787.77,340.98 1788.49,340.98 1789.21,340.98 1789.93,340.98 1790.65,340.99 1791.37,340.99 1792.09,340.99 1792.81,340.99 1793.53,340.99 1794.24,340.99 1794.96,340.99 1795.68,340.99 1796.4,341 1797.12,341 1797.84,341 1798.56,341" fill="none" stroke="#68bce0" stroke-width="10" stroke-linecap="butt" stroke-linejoin="round" />
<polygon points="1831.65,341.2 1787.05,326.9 1791.37,341.2 1787.05,355.5" fill="#68bce0" />
<line x1="1526.26" y1="217" x2="1284.89" y2="308.5" stroke="#e0432f" stroke-width="10.5" stroke-linecap="butt" />
<polygon points="1254.68,321 1292.09,287.5 1284.89,308 1306.47,322.5" fill="#e0432f" />
<line x1="824.46" y1="484.6" x2="1060.43" y2="391.5" stroke="#1a6ab4" stroke-width="10.3" stroke-linecap="butt" />
<polygon points="1093.96,380.4 1043.02,379.3 1056.12,390 1057.55,414.8" fill="#1a6ab4" />
<ellipse cx="1119.68" cy="315.84" rx="16.26" ry="15.8" fill="url(#gBall)" stroke="#111" stroke-width="1.6" />
<ellipse cx="1179.96" cy="304.72" rx="16.26" ry="15.8" fill="url(#gBall)" stroke="#111" stroke-width="1.6" />
<ellipse cx="1204.16" cy="308.95" rx="16.26" ry="15.8" fill="url(#gBall)" stroke="#111" stroke-width="1.6" />
<ellipse cx="1100" cy="332.86" rx="16.26" ry="15.8" fill="url(#gBall)" stroke="#111" stroke-width="1.6" />
<ellipse cx="1118.59" cy="334.27" rx="16.26" ry="15.8" fill="url(#gBall)" stroke="#111" stroke-width="1.6" />
<ellipse cx="1136.91" cy="334.1" rx="16.26" ry="15.8" fill="url(#gBall)" stroke="#111" stroke-width="1.6" />
<ellipse cx="1193.77" cy="334.27" rx="16.26" ry="15.8" fill="url(#gBall)" stroke="#111" stroke-width="1.6" />
<ellipse cx="1212.36" cy="334.93" rx="16.26" ry="15.8" fill="url(#gBall)" stroke="#111" stroke-width="1.6" />
<ellipse cx="1229.72" cy="331.44" rx="16.26" ry="15.8" fill="url(#gBall)" stroke="#111" stroke-width="1.6" />
<ellipse cx="1236.69" cy="337.09" rx="16.26" ry="15.8" fill="url(#gBall)" stroke="#111" stroke-width="1.6" />
<ellipse cx="1179.96" cy="339.91" rx="16.26" ry="15.8" fill="url(#gBall)" stroke="#111" stroke-width="1.6" />
<ellipse cx="1102.32" cy="352.53" rx="16.26" ry="15.8" fill="url(#gBall)" stroke="#111" stroke-width="1.6" />
<ellipse cx="1229.72" cy="358.17" rx="16.26" ry="15.8" fill="url(#gBall)" stroke="#111" stroke-width="1.6" />
<ellipse cx="1234.37" cy="349.7" rx="16.26" ry="15.8" fill="url(#gBall)" stroke="#111" stroke-width="1.6" />
<ellipse cx="1125.56" cy="372.28" rx="16.26" ry="15.8" fill="url(#gBall)" stroke="#111" stroke-width="1.6" />
<ellipse cx="1134.72" cy="368.71" rx="16.26" ry="15.8" fill="url(#gBall)" stroke="#111" stroke-width="1.6" />
<ellipse cx="1161.37" cy="372.28" rx="16.26" ry="15.8" fill="url(#gBall)" stroke="#111" stroke-width="1.6" />
<ellipse cx="1191.45" cy="370.79" rx="16.26" ry="15.8" fill="url(#gBall)" stroke="#111" stroke-width="1.6" />
<ellipse cx="1203.06" cy="368.05" rx="16.26" ry="15.8" fill="url(#gBall)" stroke="#111" stroke-width="1.6" />
<ellipse cx="1150.99" cy="368.05" rx="16.26" ry="15.8" fill="url(#gBall)" stroke="#111" stroke-width="1.6" />
<ellipse cx="1227.4" cy="365.23" rx="16.26" ry="15.8" fill="url(#gBall)" stroke="#111" stroke-width="1.6" />
<ellipse cx="1155.63" cy="310.36" rx="16.26" ry="15.8" fill="url(#gBall)" stroke="#111" stroke-width="1.6" />
<ellipse cx="1133.63" cy="317.09" rx="16.26" ry="15.8" fill="url(#gBall)" stroke="#111" stroke-width="1.6" />
<ellipse cx="1190.9" cy="317.42" rx="16.26" ry="15.8" fill="url(#gBall)" stroke="#111" stroke-width="1.6" />
<ellipse cx="1219.33" cy="316.01" rx="16.26" ry="15.8" fill="url(#gBall)" stroke="#111" stroke-width="1.6" />
<ellipse cx="1171.76" cy="324.39" rx="16.26" ry="15.8" fill="url(#gBall)" stroke="#111" stroke-width="1.6" />
<ellipse cx="1156.73" cy="337.75" rx="16.26" ry="15.8" fill="url(#gBall)" stroke="#111" stroke-width="1.6" />
<ellipse cx="1116.81" cy="355.02" rx="16.26" ry="15.8" fill="url(#gBall)" stroke="#111" stroke-width="1.6" />
<ellipse cx="1145.79" cy="355.02" rx="16.26" ry="15.8" fill="url(#gBall)" stroke="#111" stroke-width="1.6" />
<ellipse cx="1175.32" cy="358.5" rx="16.26" ry="15.8" fill="url(#gBall)" stroke="#111" stroke-width="1.6" />
<ellipse cx="1212.36" cy="357.51" rx="16.26" ry="15.8" fill="url(#gBall)" stroke="#111" stroke-width="1.6" />
<rect x="1873.38" y="322" width="47.48" height="38" fill="#5e6a72" />
<rect x="1835.97" y="302.5" width="37.41" height="77.5" fill="#37454f" />
<path d="M 1919.42,341 L 1951.08,341 C 1974.1,341 1986.04,356 1986.04,385 L 1986.04,689 C 1986.04,716 2002.88,732.6 2031.65,732.6 L 2217.27,732.6" fill="none" stroke="#d3c51c" stroke-width="10.5" stroke-linecap="butt" stroke-linejoin="round" />
<path d="M 1919.42,341 L 1951.08,341 C 1974.1,341 1986.04,356 1986.04,385 L 1986.04,689 C 1986.04,716 2002.88,732.6 2031.65,732.6 L 2217.27,732.6" fill="none" stroke="#dcd642" stroke-width="7" stroke-linecap="butt" stroke-linejoin="round" />
<path d="M 1919.42,341 L 1951.08,341 C 1974.1,341 1986.04,356 1986.04,385 L 1986.04,689 C 1986.04,716 2002.88,732.6 2031.65,732.6 L 2217.27,732.6" fill="none" stroke="#e3ea82" stroke-width="3.8" stroke-linecap="butt" stroke-linejoin="round" />
<text transform="translate(324.38,262.5) scale(1,1)" font-size="58" fill="#000">Readout</text>
<text transform="translate(325.09,262.5) scale(1,1)" font-size="58" fill="#000">Readout</text>
<text transform="translate(633.73,262.5) scale(1,1)" font-size="58" fill="#000">PBS</text>
<text transform="translate(634.45,262.5) scale(1,1)" font-size="58" fill="#000">PBS</text>
<text transform="translate(816.36,262.5) scale(0.99,1)" font-size="58" fill="#000">QWP</text>
<text transform="translate(817.08,262.5) scale(0.99,1)" font-size="58" fill="#000">QWP</text>
<text transform="translate(751.72,456) scale(1,1)" font-size="58" fill="#000">HWP</text>
<text transform="translate(752.44,456) scale(1,1)" font-size="58" fill="#000">HWP</text>
<text transform="translate(875.61,525) scale(1,1)" font-size="58" fill="#000">Write</text>
<text transform="translate(876.33,525) scale(1,1)" font-size="58" fill="#000">Write</text>
<text transform="translate(1368.21,218) scale(1.01,1)" font-size="58" fill="#000">Read</text>
<text transform="translate(1368.93,218) scale(1.01,1)" font-size="58" fill="#000">Read</text>
<text transform="translate(1613.74,260) scale(0.99,1)" font-size="58" fill="#000">Write-out</text>
<text transform="translate(1614.46,260) scale(0.99,1)" font-size="58" fill="#000">Write-out</text>
<text transform="translate(77.22,597) scale(1,1)" font-size="58" fill="#000">APD</text>
<text transform="translate(77.94,597) scale(1,1)" font-size="58" fill="#000">APD</text>
<path d="M 1206.47,528 L 1185.47,421.1 L 1317.99,463.5 L 1329.55,465.84 L 1337.98,463.29 L 1346.49,460.86 L 1355.09,458.56 L 1363.76,456.37 L 1372.52,454.31 L 1381.35,452.38 L 1390.25,450.57 L 1399.21,448.88 L 1408.24,447.33 L 1417.32,445.9 L 1426.45,444.61 L 1435.64,443.45 L 1444.86,442.42 L 1454.13,441.52 L 1463.43,440.77 L 1472.76,440.15 L 1482.11,439.66 L 1491.49,439.32 L 1500.87,439.12 L 1510.27,439.06 L 1519.67,439.15 L 1529.07,439.37 L 1538.46,439.75 L 1547.84,440.26 L 1557.19,440.93 L 1566.52,441.74 L 1575.82,442.69 L 1585.08,443.8 L 1594.29,445.05 L 1603.45,446.44 L 1612.55,447.98 L 1621.59,449.67 L 1630.56,451.51 L 1639.45,453.48 L 1648.26,455.6 L 1656.97,457.87 L 1665.59,460.27 L 1674.11,462.81 L 1682.51,465.49 L 1690.8,468.31 L 1698.97,471.25 L 1707.01,474.33 L 1714.92,477.54 L 1722.69,480.87 L 1730.32,484.33 L 1737.79,487.91 L 1745.12,491.6 L 1752.28,495.41 L 1759.29,499.33 L 1766.12,503.36 L 1772.79,507.5 L 1779.28,511.73 L 1785.6,516.06 L 1791.73,520.49 L 1797.68,525.01 L 1803.45,529.61 L 1809.02,534.3 L 1814.41,539.06 L 1819.61,543.91 L 1824.61,548.82 L 1829.41,553.81 L 1834.02,558.86 L 1838.44,563.97 L 1842.65,569.14 L 1846.67,574.37 L 1850.49,579.65 L 1854.1,584.97 L 1857.52,590.35 L 1860.74,595.76 L 1863.76,601.22 L 1866.57,606.72 L 1869.19,612.24 L 1871.61,617.81 L 1873.82,623.4 L 1875.84,629.01 L 1877.66,634.65 L 1879.27,640.32 L 1880.69,646 L 1881.9,651.7 L 1882.92,657.42 L 1883.73,663.15 L 1884.34,668.89 L 1884.74,674.63 L 1884.95,680.39 L 1884.95,686.15 L 1884.75,691.91 L 1884.34,697.67 L 1883.72,703.43 L 1882.9,709.19 L 1881.87,714.93 L 1880.63,720.67 L 1879.18,726.4 L 1877.52,732.11 L 1875.64,737.8 L 1873.55,743.47 L 1871.25,749.12 L 1868.72,754.74 L 1865.98,760.33 L 1863.03,765.89 L 1859.85,771.41 L 1856.45,776.89 L 1852.84,782.32 L 1849,787.71 L 1844.94,793.04 L 1840.66,798.31 L 1836.17,803.53 L 1831.45,808.67 L 1826.52,813.75 L 1821.37,818.75 L 1816.01,823.67 L 1810.43,828.51 L 1804.64,833.26 L 1798.65,837.92 L 1792.45,842.48 L 1786.06,846.94 L 1779.46,851.3 L 1772.67,855.54 L 1765.7,859.67 L 1758.54,863.68 L 1751.21,867.57 L 1743.7,871.33 L 1736.02,874.96 L 1728.19,878.46 L 1720.2,881.83 L 1712.06,885.05 L 1703.79,888.13 L 1695.38,891.07 L 1686.84,893.85 L 1678.19,896.49 L 1669.42,898.98 L 1660.56,901.32 L 1651.59,903.5 L 1642.54,905.52 L 1633.41,907.39 L 1624.21,909.11 L 1614.95,910.66 L 1605.62,912.06 L 1596.25,913.3 L 1586.84,914.38 L 1577.4,915.3 L 1567.93,916.07 L 1558.44,916.69 L 1548.95,917.15 L 1539.44,917.45 L 1529.94,917.61 L 1520.45,917.61 L 1510.98,917.47 L 1501.52,917.19 L 1492.09,916.75 L 1482.7,916.18 L 1473.34,915.46 L 1464.03,914.61 L 1454.76,913.62 L 1445.54,912.5 L 1436.39,911.25 L 1427.29,909.87 L 1418.25,908.36 L 1409.29,906.73 L 1400.39,904.97 L 1391.58,903.1 L 1382.83,901.1 L 1374.17,898.99 L 1365.6,896.77 L 1357.11,894.43 L 1348.71,891.99 L 1340.4,889.43 L 1332.18,886.77 L 1324.07,884 L 1316.05,881.13 L 1308.13,878.15 L 1300.32,875.07 L 1292.62,871.9 L 1285.03,868.62 L 1277.54,865.24 L 1270.18,861.77 L 1262.93,858.2 L 1255.81,854.54 L 1248.81,850.78 L 1241.94,846.93 L 1235.2,842.99 L 1228.59,838.96 L 1222.13,834.84 L 1215.81,830.63 L 1209.63,826.33 L 1203.61,821.94 L 1197.74,817.47 L 1192.04,812.92 L 1186.49,808.28 L 1181.12,803.57 L 1175.92,798.77 L 1170.9,793.9 L 1166.06,788.95 L 1161.41,783.94 L 1156.95,778.85 L 1152.69,773.69 L 1148.64,768.48 L 1144.78,763.19 L 1141.14,757.85 L 1137.71,752.46 L 1134.5,747.01 L 1131.51,741.51 L 1128.75,735.97 L 1126.22,730.39 L 1123.92,724.76 L 1121.86,719.1 L 1120.03,713.41 L 1118.44,707.69 L 1117.1,701.95 L 1116,696.19 L 1115.15,690.41 L 1114.54,684.62 L 1114.18,678.82 L 1114.07,673.01 L 1114.21,667.21 L 1114.6,661.4 L 1115.24,655.6 L 1116.13,649.81 L 1117.27,644.03 L 1118.67,638.27 L 1120.3,632.54 L 1122.19,626.82 L 1124.32,621.14 L 1126.7,615.49 L 1129.31,609.88 L 1132.17,604.31 L 1135.26,598.78 L 1138.59,593.31 L 1142.15,587.88 L 1145.93,582.52 L 1149.94,577.21 L 1154.17,571.97 L 1158.61,566.8 L 1163.27,561.7 L 1168.13,556.67 L 1173.19,551.72 L 1178.45,546.85 L 1183.9,542.06 L 1189.54,537.36 L 1195.36,532.75 L 1201.36,528.23" fill="#ffffff" stroke="#36444e" stroke-width="10" stroke-linecap="butt" stroke-linejoin="miter" stroke-miterlimit="10"/>
<g>
<line x1="1456.12" y1="531.5" x2="1532.37" y2="531.5" stroke="#000" stroke-width="5" stroke-linecap="butt" stroke-dasharray="5.76 8.06"/>
<line x1="1456.12" y1="546" x2="1535.25" y2="546" stroke="#000" stroke-width="6" stroke-linecap="butt" />
<line x1="1358.27" y1="727.9" x2="1437.41" y2="727.9" stroke="#000" stroke-width="5" stroke-linecap="butt" />
<line x1="1456.12" y1="727.9" x2="1534.82" y2="727.9" stroke="#000" stroke-width="5" stroke-linecap="butt" />
<line x1="1553.96" y1="727.9" x2="1633.38" y2="727.9" stroke="#000" stroke-width="5" stroke-linecap="butt" />
<line x1="1360" y1="785" x2="1439.28" y2="785" stroke="#000" stroke-width="5" stroke-linecap="butt" />
<line x1="1457.55" y1="785" x2="1535.25" y2="785" stroke="#000" stroke-width="5" stroke-linecap="butt" />
<line x1="1555.4" y1="785" x2="1633.09" y2="785" stroke="#000" stroke-width="5" stroke-linecap="butt" />
<ellipse cx="1373.24" cy="759.3" rx="8.35" ry="7.3" fill="url(#gBall)" stroke="#111" stroke-width="1.2" />
<ellipse cx="1391.08" cy="759.3" rx="8.35" ry="7.3" fill="url(#gBall)" stroke="#111" stroke-width="1.2" />
<ellipse cx="1406.76" cy="759.3" rx="8.35" ry="7.3" fill="url(#gBall)" stroke="#111" stroke-width="1.2" />
<ellipse cx="1423.02" cy="759.3" rx="8.35" ry="7.3" fill="url(#gBall)" stroke="#111" stroke-width="1.2" />
<ellipse cx="1366.19" cy="773.4" rx="8.35" ry="7.3" fill="url(#gBall)" stroke="#111" stroke-width="1.2" />
<ellipse cx="1384.03" cy="773.4" rx="8.35" ry="7.3" fill="url(#gBall)" stroke="#111" stroke-width="1.2" />
<ellipse cx="1399.71" cy="773.4" rx="8.35" ry="7.3" fill="url(#gBall)" stroke="#111" stroke-width="1.2" />
<ellipse cx="1415.54" cy="773.4" rx="8.35" ry="7.3" fill="url(#gBall)" stroke="#111" stroke-width="1.2" />
<ellipse cx="1432.09" cy="773.4" rx="8.35" ry="7.3" fill="url(#gBall)" stroke="#111" stroke-width="1.2" />
<ellipse cx="1496.98" cy="775.2" rx="8.35" ry="7.3" fill="url(#gBall)" stroke="#111" stroke-width="1.2" />
<ellipse cx="1595.97" cy="775.2" rx="8.35" ry="7.3" fill="url(#gBall)" stroke="#111" stroke-width="1.2" />
<ellipse cx="1400.72" cy="717.6" rx="8.92" ry="7.5" fill="url(#gBallL)" stroke="#777" stroke-width="0.8" />
<ellipse cx="1586.62" cy="717.6" rx="8.92" ry="7.5" fill="url(#gBallL)" stroke="#777" stroke-width="0.8" />
<line x1="1474.53" y1="531.5" x2="1414.99" y2="681.26" stroke="#68bce0" stroke-width="6"/>
<polygon points="1403.17,711 1405.86,669.03 1414.99,681.26 1430.02,678.63" fill="#68bce0"/>
<line x1="1509.35" y1="531.5" x2="1570.38" y2="681.36" stroke="#68bce0" stroke-width="6"/>
<polygon points="1582.45,711 1555.32,678.86 1570.38,681.36 1579.4,669.05" fill="#68bce0"/>
<line x1="1400.72" y1="774" x2="1488.27" y2="560.9" stroke="#1a6ab4" stroke-width="7.5"/>
<polygon points="1500.43,531.3 1497.72,573.43 1488.27,560.9 1472.74,563.17" fill="#1a6ab4"/>
</g>
<line x1="1472.81" y1="475.4" x2="1472.81" y2="517.7" stroke="#000" stroke-width="3.4" stroke-linecap="butt" />
<text transform="translate(1478.98,508.8) scale(1.03,1)" font-size="48.33" fill="#000">e</text>
<text transform="translate(1479.7,508.8) scale(1.03,1)" font-size="48.33" fill="#000">e</text>
<polyline points="1510.5,475.4 1522.16,496.5 1510.5,517.7" fill="none" stroke="#000" stroke-width="3.2" stroke-linecap="butt" stroke-linejoin="miter" />
<text transform="translate(1243.75,559.8) scale(0.95,1)" font-size="50.58" fill="#231815">5P</text>
<text transform="translate(1244.47,559.8) scale(0.95,1)" font-size="50.58" fill="#231815">5P</text>
<text transform="translate(1302.48,559.8) scale(1.01,1)" font-size="29.08" fill="#231815">3/2</text>
<text transform="translate(1303.2,559.8) scale(1.01,1)" font-size="29.08" fill="#231815">3/2</text>
<text transform="translate(1644.8,565.8) scale(0.96,1)" font-size="49.85" fill="#231815">F’=2</text>
<text transform="translate(1645.52,565.8) scale(0.96,1)" font-size="49.85" fill="#231815">F’=2</text>
<text transform="translate(1644.14,745.5) scale(1.06,1)" font-size="46.08" fill="#231815">F=2</text>
<text transform="translate(1644.86,745.5) scale(1.06,1)" font-size="46.08" fill="#231815">F=2</text>
<text transform="translate(1644.35,803) scale(1.02,1)" font-size="45.35" fill="#231815">F=1</text>
<text transform="translate(1645.07,803) scale(1.02,1)" font-size="45.35" fill="#231815">F=1</text>
<text transform="translate(1244.04,766.3) scale(1.02,1)" font-size="47.09" fill="#231815">5S</text>
<text transform="translate(1244.76,766.3) scale(1.02,1)" font-size="47.09" fill="#231815">5S</text>
<text transform="translate(1303.75,766.3) scale(1.07,1)" font-size="25.58" fill="#231815">1/2</text>
<text transform="translate(1304.47,766.3) scale(1.07,1)" font-size="25.58" fill="#231815">1/2</text>
<text transform="translate(1243.02,827.7) scale(0.95,1)" font-size="47.24" fill="#231815">mF</text>
<text transform="translate(1243.74,827.7) scale(0.95,1)" font-size="47.24" fill="#231815">mF</text>
<text transform="translate(1370.02,831.9) scale(0.88,1)" font-size="48.11" fill="#231815">-1</text>
<text transform="translate(1370.74,831.9) scale(0.88,1)" font-size="48.11" fill="#231815">-1</text>
<text transform="translate(1480.55,832.7) scale(1.04,1)" font-size="44.7" fill="#231815">0</text>
<text transform="translate(1481.27,832.7) scale(1.04,1)" font-size="44.7" fill="#231815">0</text>
<text transform="translate(1576.82,832.7) scale(0.94,1)" font-size="45.35" fill="#231815">1</text>
<text transform="translate(1577.54,832.7) scale(0.94,1)" font-size="45.35" fill="#231815">1</text>
<line x1="1372.23" y1="846" x2="1372.23" y2="887.7" stroke="#000" stroke-width="3.4" stroke-linecap="butt" />
<text transform="translate(1378.84,876.4) scale(1.13,1)" font-size="44.32" fill="#000">g</text>
<text transform="translate(1379.56,876.4) scale(1.13,1)" font-size="44.32" fill="#000">g</text>
<polyline points="1409.78,846 1421.01,866.8 1409.78,887.7" fill="none" stroke="#000" stroke-width="3.2" stroke-linecap="butt" stroke-linejoin="miter" />
<line x1="2069.5" y1="347" x2="2434.53" y2="284.5" stroke="#33d685" stroke-width="10" stroke-linecap="butt" />
<polygon points="2161.15,331.6 2109.64,320 2120.86,338.3 2116.55,359" fill="#33d685" />
<line x1="2349.64" y1="190" x2="2315.83" y2="400" stroke="#33d685" stroke-width="9" stroke-linecap="butt" />
<polyline points="2299.28,1183.2 2659.71,1183.2 2659.71,497.8 2251.8,497.8 2537.7,211.9 2537.7,618.6 2635.97,618.6" fill="none" stroke="#a02845" stroke-width="10.1" stroke-linecap="butt" stroke-linejoin="miter" stroke-miterlimit="10"/>
<polyline points="2536.69,955 2650.14,955 2650.14,488.2 2247.8,488.2 2528.2,207.8 2528.2,609 2635.97,609" fill="none" stroke="#33d685" stroke-width="10.1" stroke-linecap="butt" stroke-linejoin="miter" stroke-miterlimit="10"/>
<polyline points="2299.28,732.8 2640.58,732.8 2640.58,478.6 2243.8,478.6 2518.49,203.91 2518.49,599.4 2635.97,599.4" fill="none" stroke="#68bce0" stroke-width="10.1" stroke-linecap="butt" stroke-linejoin="miter" stroke-miterlimit="10"/>
<rect x="2472.66" y="361.7" width="109.93" height="18.1" fill="url(#gHWP)" stroke="#1c1c2c" stroke-width="1.8" />
<polygon points="2404.32,298.4 2436.26,329 2358.56,406.4 2327.05,375.2" fill="#f4f9fc" fill-opacity="0.88"/>
<line x1="2336.32" y1="365.98" x2="2361.57" y2="390.89" stroke="#62b4ea" stroke-width="5.2" stroke-linecap="butt" />
<line x1="2347.68" y1="354.69" x2="2372.98" y2="379.53" stroke="#62b4ea" stroke-width="5.2" stroke-linecap="butt" />
<line x1="2359.04" y1="343.4" x2="2384.39" y2="368.17" stroke="#62b4ea" stroke-width="5.2" stroke-linecap="butt" />
<line x1="2370.4" y1="332.12" x2="2395.8" y2="356.81" stroke="#62b4ea" stroke-width="5.2" stroke-linecap="butt" />
<line x1="2381.75" y1="320.83" x2="2407.21" y2="345.45" stroke="#62b4ea" stroke-width="5.2" stroke-linecap="butt" />
<line x1="2393.11" y1="309.54" x2="2418.62" y2="334.09" stroke="#62b4ea" stroke-width="5.2" stroke-linecap="butt" />
<polygon points="2404.32,298.4 2436.26,329 2358.56,406.4 2327.05,375.2" fill="none" stroke="#5a6ef5" stroke-width="3" stroke-linejoin="miter" />
<polygon points="2296.12,165.6 2405.76,184.2 2402.88,203.8 2294.68,185.2" fill="#c0c0c0" stroke="#333333" stroke-width="2" stroke-linejoin="miter" />
<polygon points="2484.6,169.5 2586.47,210.6 2578.85,229.2 2477.55,188.1" fill="#c0c0c0" stroke="#333333" stroke-width="2" stroke-linejoin="miter" />
<polygon points="2200,269 2213.67,266.5 2232.95,373.7 2219.28,375.9" fill="#c0c0c0" stroke="#333333" stroke-width="2" stroke-linejoin="miter" />
<polygon points="2198.99,446.5 2217.27,439.6 2259.57,539.3 2241.29,546.2" fill="#c0c0c0" stroke="#333333" stroke-width="2" stroke-linejoin="miter" />
<polygon points="2611.22,449.4 2625.18,436.7 2702.59,513 2688.49,525.6" fill="#c0c0c0" stroke="#333333" stroke-width="2" stroke-linejoin="miter" />
<polygon points="2474.82,584.3 2488.78,570.6 2566.47,645.9 2551.37,660.6" fill="#c0c0c0" stroke="#333333" stroke-width="2" stroke-linejoin="miter" />
<polygon points="2610.07,771.2 2625.32,785.3 2702.88,708 2689.21,694.4" fill="#c0c0c0" stroke="#333333" stroke-width="2" stroke-linejoin="miter" />
<polygon points="2603.45,998.4 2618.71,1013.7 2696.12,936.3 2681.01,922.3" fill="#c0c0c0" stroke="#333333" stroke-width="2" stroke-linejoin="miter" />
<polygon points="2617.84,1223.5 2632.95,1238.6 2710.65,1162.1 2695.54,1147.4" fill="#c0c0c0" stroke="#333333" stroke-width="2" stroke-linejoin="miter" />
<path d="M 2418.85,238.4 L 2437.41,229.2 L 2488.2,324.2 L 2469.64,334.3 Q 2473.02,286.35 2418.85,238.4 Z" fill="#c0c0c0" stroke="#333333" stroke-width="2" stroke-linecap="butt" stroke-linejoin="miter" />
<path d="M 2361.15,436.4 L 2352.52,453.7 L 2254.1,404.6 L 2264.46,387.2 Q 2312.81,431.8 2361.15,436.4 Z" fill="#c0c0c0" stroke="#333333" stroke-width="2" stroke-linecap="butt" stroke-linejoin="miter" />
<rect x="2618.27" y="577" width="63.74" height="63" fill="#87c0e1" />
<rect x="2635.83" y="577" width="9.5" height="63" fill="#4ba7d7" />
<rect x="2645.32" y="577" width="9.57" height="63" fill="#36b4b0" />
<rect x="2654.89" y="577" width="9.57" height="63" fill="#60699a" />
<rect x="2618.27" y="594.3" width="17.55" height="9.7" fill="#4ba7d7" />
<rect x="2618.27" y="604" width="17.55" height="9.6" fill="#36b4b0" />
<rect x="2618.27" y="613.6" width="17.55" height="9.4" fill="#60699a" />
<polygon points="2618.27,577 2682.01,577 2682.01,640 2618.27,640" fill="none" stroke="#000" stroke-width="2.2" stroke-linejoin="miter" stroke-opacity="0.62"/>
<line x1="2618.56" y1="577.4" x2="2681.73" y2="639.6" stroke="#1b2a33" stroke-width="2.6" stroke-linecap="butt" />
<rect x="2215.54" y="713.4" width="47.19" height="38.4" fill="#5e6a72" />
<rect x="2262.73" y="694.4" width="36.55" height="77.3" fill="#37454f" />
<rect x="2215.54" y="1163.6" width="47.19" height="38.7" fill="#5e6a72" />
<rect x="2262.73" y="1144.9" width="36.55" height="77.3" fill="#37454f" />
<polygon points="2560.58,732.8 2512.52,713.3 2521.58,732.8 2512.52,752.3" fill="#68bce0" />
<polygon points="2349.64,1183.2 2411.37,1158.7 2399.28,1183.2 2411.37,1207.6" fill="#a02845" />
<text transform="translate(1958.56,300.5) scale(1,1)" font-size="58" fill="#000">1601nm</text>
<text transform="translate(1959.28,300.5) scale(1,1)" font-size="58" fill="#000">1601nm</text>
<text transform="translate(2614.46,386.6) scale(1,1)" font-size="58" fill="#000">HWP</text>
<text transform="translate(2615.18,386.6) scale(1,1)" font-size="58" fill="#000">HWP</text>
<text transform="translate(2364.09,437.7) scale(1,1)" font-size="58" fill="#000">PPLN</text>
<text transform="translate(2364.81,437.7) scale(1,1)" font-size="58" fill="#000">PPLN</text>
<text transform="translate(2709.96,637) scale(1.01,1)" font-size="58" fill="#000">PBS</text>
<text transform="translate(2710.68,637) scale(1.01,1)" font-size="58" fill="#000">PBS</text>
<text transform="translate(2321.87,711.5) scale(1,1)" font-size="58" fill="#000">780nm</text>
<text transform="translate(2322.59,711.5) scale(1,1)" font-size="58" fill="#000">780nm</text>
<text transform="translate(2679.42,794.2) scale(0.95,1)" font-size="58" fill="#000">DM1</text>
<text transform="translate(2680.14,794.2) scale(0.95,1)" font-size="58" fill="#000">DM1</text>
<text transform="translate(2684.09,1005.5) scale(1,1)" font-size="58" fill="#000">DM2</text>
<text transform="translate(2684.81,1005.5) scale(1,1)" font-size="58" fill="#000">DM2</text>
<text transform="translate(2328.92,1133.9) scale(1,1)" font-size="58" fill="#000">1522nm</text>
<text transform="translate(2329.64,1133.9) scale(1,1)" font-size="58" fill="#000">1522nm</text>
<rect x="124.46" y="823.3" width="105.32" height="228.7" fill="url(#gCyl)" rx="12.95" ry="9" stroke="#8c8c8c" stroke-width="3.6" />
<rect x="42.45" y="1045.5" width="269.5" height="56.2" fill="#cbcbcb" rx="11.51" ry="8" stroke="#7e7e7e" stroke-width="4.5" />
<path d="M 79.86,1091 L 79.86,1061.1 C 79.86,1056.31 85.04,1056.31 85.04,1061.1 L 85.04,1087.4 C 85.04,1092.19 90.22,1092.19 90.22,1087.4 L 90.22,1061.1 C 90.22,1056.31 95.4,1056.31 95.4,1061.1 L 95.4,1087.4 C 95.4,1092.19 100.58,1092.19 100.58,1087.4 L 100.58,1061.1 C 100.58,1056.31 105.76,1056.31 105.76,1061.1 L 105.76,1087.4 C 105.76,1092.19 110.94,1092.19 110.94,1087.4 L 110.94,1061.1 C 110.94,1056.31 116.12,1056.31 116.12,1061.1 L 116.12,1087.4 C 116.12,1092.19 121.29,1092.19 121.29,1087.4 L 121.29,1061.1 C 121.29,1056.31 126.47,1056.31 126.47,1061.1 L 126.47,1087.4 C 126.47,1092.19 131.65,1092.19 131.65,1087.4 L 131.65,1061.1 C 131.65,1056.31 136.83,1056.31 136.83,1061.1 L 136.83,1087.4 C 136.83,1092.19 142.01,1092.19 142.01,1087.4 L 142.01,1061.1 C 142.01,1056.31 147.19,1056.31 147.19,1061.1 L 147.19,1087.4 C 147.19,1092.19 152.37,1092.19 152.37,1087.4 L 152.37,1061.1 C 152.37,1056.31 157.55,1056.31 157.55,1061.1 L 157.55,1087.4 C 157.55,1092.19 162.73,1092.19 162.73,1087.4 L 162.73,1061.1 C 162.73,1056.31 167.91,1056.31 167.91,1061.1 L 167.91,1087.4 C 167.91,1092.19 173.09,1092.19 173.09,1087.4 L 173.09,1061.1 C 173.09,1056.31 178.27,1056.31 178.27,1061.1 L 178.27,1087.4 C 178.27,1092.19 183.45,1092.19 183.45,1087.4 L 183.45,1061.1 C 183.45,1056.31 188.63,1056.31 188.63,1061.1 L 188.63,1087.4 C 188.63,1092.19 193.81,1092.19 193.81,1087.4 L 193.81,1061.1 C 193.81,1056.31 198.99,1056.31 198.99,1061.1 L 198.99,1087.4 C 198.99,1092.19 204.17,1092.19 204.17,1087.4 L 204.17,1061.1 C 204.17,1056.31 209.35,1056.31 209.35,1061.1 L 209.35,1087.4 C 209.35,1092.19 214.53,1092.19 214.53,1087.4 L 214.53,1061.1 C 214.53,1056.31 219.71,1056.31 219.71,1061.1 L 219.71,1087.4 C 219.71,1092.19 224.89,1092.19 224.89,1087.4 L 224.89,1061.1 C 224.89,1056.31 230.07,1056.31 230.07,1061.1 L 230.07,1087.4 C 230.07,1092.19 235.25,1092.19 235.25,1087.4 L 235.25,1061.1 C 235.25,1056.31 240.43,1056.31 240.43,1061.1 L 240.43,1087.4 C 240.43,1092.19 245.61,1092.19 245.61,1087.4 L 245.61,1061.1 C 245.61,1056.31 250.79,1056.31 250.79,1061.1 L 250.79,1087.4 C 250.79,1092.19 255.97,1092.19 255.97,1087.4 L 255.97,1061.1 C 255.97,1056.31 261.15,1056.31 261.15,1061.1 L 261.15,1087.4 C 261.15,1092.19 266.33,1092.19 266.33,1087.4 L 266.33,1061.1 C 266.33,1056.31 271.51,1056.31 271.51,1061.1 L 271.51,1087.4" fill="none" stroke="#8a8a8a" stroke-width="1.6" stroke-linecap="butt" stroke-linejoin="round" />
<path d="M 307.91,1064.8 L 371.22,1064.8 C 411.51,1064.8 427.91,1040 427.91,1000 L 427.91,835 C 427.91,795 448.92,774 489.21,774 L 647.48,774 C 690.65,774 712.23,790 712.23,815 L 712.23,842" fill="none" stroke="#d3c51c" stroke-width="10.5" stroke-linecap="butt" stroke-linejoin="round" />
<path d="M 307.91,1064.8 L 371.22,1064.8 C 411.51,1064.8 427.91,1040 427.91,1000 L 427.91,835 C 427.91,795 448.92,774 489.21,774 L 647.48,774 C 690.65,774 712.23,790 712.23,815 L 712.23,842" fill="none" stroke="#dcd642" stroke-width="7" stroke-linecap="butt" stroke-linejoin="round" />
<path d="M 307.91,1064.8 L 371.22,1064.8 C 411.51,1064.8 427.91,1040 427.91,1000 L 427.91,835 C 427.91,795 448.92,774 489.21,774 L 647.48,774 C 690.65,774 712.23,790 712.23,815 L 712.23,842" fill="none" stroke="#e3ea82" stroke-width="3.8" stroke-linecap="butt" stroke-linejoin="round" />
<path d="M 307.91,1086 L 460.43,1086" fill="none" stroke="#d3c51c" stroke-width="10.5" stroke-linecap="butt" stroke-linejoin="round" />
<path d="M 307.91,1086 L 460.43,1086" fill="none" stroke="#dcd642" stroke-width="7" stroke-linecap="butt" stroke-linejoin="round" />
<path d="M 307.91,1086 L 460.43,1086" fill="none" stroke="#e3ea82" stroke-width="3.8" stroke-linecap="butt" stroke-linejoin="round" />
<line x1="712.23" y1="923" x2="712.23" y2="1085.2" stroke="#a02845" stroke-width="10" stroke-linecap="butt" />
<line x1="542.45" y1="1085.2" x2="978.42" y2="1085.2" stroke="#a02845" stroke-width="10" stroke-linecap="butt" />
<polygon points="658.13,1033.2 765.9,1031.3 766.91,1137.8 658.99,1139.8" fill="#87c0e1" />
<line x1="658.71" y1="1085.2" x2="766.33" y2="1085.2" stroke="#636a9c" stroke-width="10" stroke-linecap="butt" />
<line x1="712.23" y1="1032.3" x2="712.23" y2="1085.2" stroke="#636a9c" stroke-width="10" stroke-linecap="butt" />
<line x1="712.23" y1="1080.2" x2="712.23" y2="1090.2" stroke="#636a9c" stroke-width="10" stroke-linecap="butt" />
<polygon points="658.13,1033.2 765.9,1031.3 766.91,1137.8 658.99,1139.8" fill="none" stroke="#000" stroke-width="2.4" stroke-linejoin="miter" stroke-opacity="0.62"/>
<line x1="658.42" y1="1033.4" x2="766.62" y2="1137.6" stroke="#1b2a33" stroke-width="2.4" stroke-linecap="butt" />
<rect x="801.44" y="1031.7" width="19.86" height="108.5" fill="url(#gPlateB)" stroke="#111" stroke-width="1.9" />
<rect x="850.22" y="1031.7" width="18.85" height="108.5" fill="url(#gPlateR)" stroke="#111" stroke-width="1.9" />
<line x1="766.33" y1="1085.2" x2="978.42" y2="1085.2" stroke="#a02845" stroke-width="10" stroke-linecap="butt" />
<rect x="459.28" y="1067" width="48.2" height="38" fill="#5e6a72" />
<rect x="507.48" y="1047" width="35.97" height="77.5" fill="#37454f" />
<rect x="693.24" y="841.3" width="37.99" height="47" fill="#5e6a72" />
<rect x="673.09" y="888.3" width="78.56" height="35.5" fill="#37454f" />
<rect x="977.12" y="1013.8" width="275.83" height="140.9" fill="#c2c6ca" />
<polygon points="1090.07,1060.8 1107.05,1052 1141.29,1110.2 1124.17,1120" fill="#4b5964" />
<g opacity="0.85">
<line x1="1192.37" y1="1027" x2="1155.4" y2="1050" stroke="#a02845" stroke-width="10" stroke-linecap="butt" />
<polygon points="1127.05,1062.8 1151.08,1032 1155.4,1050 1166.91,1058.9" fill="#a02845" />
</g>
<g opacity="0.85">
<line x1="1201.01" y1="1040" x2="1162.59" y2="1063" stroke="#33d685" stroke-width="10" stroke-linecap="butt" />
<polygon points="1134.1,1075.7 1158.27,1046 1162.59,1063 1173.96,1070.7" fill="#33d685" />
</g>
<g opacity="0.85">
<line x1="1206.62" y1="1052" x2="1169.78" y2="1075" stroke="#68bce0" stroke-width="10" stroke-linecap="butt" />
<polygon points="1141.29,1087.5 1165.47,1058 1169.78,1075 1181.01,1082.6" fill="#68bce0" />
</g>
<g opacity="0.85">
<line x1="1097.12" y1="1095.4" x2="1061.87" y2="1119" stroke="#a02845" stroke-width="10" stroke-linecap="butt" />
<polygon points="1031.65,1133 1057.41,1101.3 1061.87,1119 1072.95,1128" fill="#a02845" />
</g>
<line x1="1252.95" y1="1080.6" x2="1530.94" y2="1080.6" stroke="#a02845" stroke-width="10" stroke-linecap="butt" />
<rect x="1565.18" y="1061.6" width="47.48" height="38.1" fill="#5e6a72" />
<rect x="1530.07" y="1041.8" width="35.11" height="77" fill="#37454f" />
<ellipse cx="2013.24" cy="1190.5" rx="97.12" ry="36" fill="none" stroke="#2e4d4d" stroke-width="7.4" vector-effect="non-scaling-stroke"/>
<polyline points="1948.92,1083.6 1949.06,1082.27 1949.48,1080.91 1950.18,1079.52 1951.15,1078.11 1952.4,1076.69 1953.9,1075.25 1955.67,1073.82 1957.69,1072.38 1959.95,1070.95 1962.45,1069.54 1965.17,1068.15 1968.1,1066.79 1971.22,1065.46 1974.53,1064.17 1978.02,1062.93 1981.65,1061.73 1985.43,1060.59 1989.34,1059.5 1993.34,1058.49 1997.44,1057.54 2001.62,1056.66 2005.84,1055.86 2010.11,1055.14 2014.39,1054.5 2018.67,1053.95 2022.93,1053.48 2027.16,1053.11 2031.33,1052.83 2035.43,1052.64 2039.44,1052.54 2043.34,1052.54 2047.12,1052.63 2050.76,1052.81 2054.24,1053.09 2057.55,1053.46 2060.68,1053.92 2063.61,1054.47 2066.33,1055.11 2068.82,1055.82 2071.09,1056.62 2073.1,1057.49 2074.87,1058.44 2076.38,1059.45 2077.63,1060.53 2078.6,1061.67 2079.3,1062.87 2079.72,1064.11 2079.86,1065.4" fill="none" stroke="#d3c51c" stroke-width="10.5" stroke-linecap="butt" stroke-linejoin="round" />
<polyline points="1948.92,1083.6 1949.06,1082.27 1949.48,1080.91 1950.18,1079.52 1951.15,1078.11 1952.4,1076.69 1953.9,1075.25 1955.67,1073.82 1957.69,1072.38 1959.95,1070.95 1962.45,1069.54 1965.17,1068.15 1968.1,1066.79 1971.22,1065.46 1974.53,1064.17 1978.02,1062.93 1981.65,1061.73 1985.43,1060.59 1989.34,1059.5 1993.34,1058.49 1997.44,1057.54 2001.62,1056.66 2005.84,1055.86 2010.11,1055.14 2014.39,1054.5 2018.67,1053.95 2022.93,1053.48 2027.16,1053.11 2031.33,1052.83 2035.43,1052.64 2039.44,1052.54 2043.34,1052.54 2047.12,1052.63 2050.76,1052.81 2054.24,1053.09 2057.55,1053.46 2060.68,1053.92 2063.61,1054.47 2066.33,1055.11 2068.82,1055.82 2071.09,1056.62 2073.1,1057.49 2074.87,1058.44 2076.38,1059.45 2077.63,1060.53 2078.6,1061.67 2079.3,1062.87 2079.72,1064.11 2079.86,1065.4" fill="none" stroke="#dcd642" stroke-width="7" stroke-linecap="butt" stroke-linejoin="round" />
<polyline points="1948.92,1083.6 1949.06,1082.27 1949.48,1080.91 1950.18,1079.52 1951.15,1078.11 1952.4,1076.69 1953.9,1075.25 1955.67,1073.82 1957.69,1072.38 1959.95,1070.95 1962.45,1069.54 1965.17,1068.15 1968.1,1066.79 1971.22,1065.46 1974.53,1064.17 1978.02,1062.93 1981.65,1061.73 1985.43,1060.59 1989.34,1059.5 1993.34,1058.49 1997.44,1057.54 2001.62,1056.66 2005.84,1055.86 2010.11,1055.14 2014.39,1054.5 2018.67,1053.95 2022.93,1053.48 2027.16,1053.11 2031.33,1052.83 2035.43,1052.64 2039.44,1052.54 2043.34,1052.54 2047.12,1052.63 2050.76,1052.81 2054.24,1053.09 2057.55,1053.46 2060.68,1053.92 2063.61,1054.47 2066.33,1055.11 2068.82,1055.82 2071.09,1056.62 2073.1,1057.49 2074.87,1058.44 2076.38,1059.45 2077.63,1060.53 2078.6,1061.67 2079.3,1062.87 2079.72,1064.11 2079.86,1065.4" fill="none" stroke="#e3ea82" stroke-width="3.8" stroke-linecap="butt" stroke-linejoin="round" />
<polyline points="1948.92,1097.7 1949.06,1096.37 1949.48,1095.01 1950.18,1093.62 1951.15,1092.21 1952.4,1090.79 1953.9,1089.35 1955.67,1087.92 1957.69,1086.48 1959.95,1085.05 1962.45,1083.64 1965.17,1082.25 1968.1,1080.89 1971.22,1079.56 1974.53,1078.27 1978.02,1077.03 1981.65,1075.83 1985.43,1074.69 1989.34,1073.6 1993.34,1072.59 1997.44,1071.64 2001.62,1070.76 2005.84,1069.96 2010.11,1069.24 2014.39,1068.6 2018.67,1068.05 2022.93,1067.58 2027.16,1067.21 2031.33,1066.93 2035.43,1066.74 2039.44,1066.64 2043.34,1066.64 2047.12,1066.73 2050.76,1066.91 2054.24,1067.19 2057.55,1067.56 2060.68,1068.02 2063.61,1068.57 2066.33,1069.21 2068.82,1069.92 2071.09,1070.72 2073.1,1071.59 2074.87,1072.54 2076.38,1073.55 2077.63,1074.63 2078.6,1075.77 2079.3,1076.97 2079.72,1078.21 2079.86,1079.5" fill="none" stroke="#d3c51c" stroke-width="10.5" stroke-linecap="butt" stroke-linejoin="round" />
<polyline points="1948.92,1097.7 1949.06,1096.37 1949.48,1095.01 1950.18,1093.62 1951.15,1092.21 1952.4,1090.79 1953.9,1089.35 1955.67,1087.92 1957.69,1086.48 1959.95,1085.05 1962.45,1083.64 1965.17,1082.25 1968.1,1080.89 1971.22,1079.56 1974.53,1078.27 1978.02,1077.03 1981.65,1075.83 1985.43,1074.69 1989.34,1073.6 1993.34,1072.59 1997.44,1071.64 2001.62,1070.76 2005.84,1069.96 2010.11,1069.24 2014.39,1068.6 2018.67,1068.05 2022.93,1067.58 2027.16,1067.21 2031.33,1066.93 2035.43,1066.74 2039.44,1066.64 2043.34,1066.64 2047.12,1066.73 2050.76,1066.91 2054.24,1067.19 2057.55,1067.56 2060.68,1068.02 2063.61,1068.57 2066.33,1069.21 2068.82,1069.92 2071.09,1070.72 2073.1,1071.59 2074.87,1072.54 2076.38,1073.55 2077.63,1074.63 2078.6,1075.77 2079.3,1076.97 2079.72,1078.21 2079.86,1079.5" fill="none" stroke="#dcd642" stroke-width="7" stroke-linecap="butt" stroke-linejoin="round" />
<polyline points="1948.92,1097.7 1949.06,1096.37 1949.48,1095.01 1950.18,1093.62 1951.15,1092.21 1952.4,1090.79 1953.9,1089.35 1955.67,1087.92 1957.69,1086.48 1959.95,1085.05 1962.45,1083.64 1965.17,1082.25 1968.1,1080.89 1971.22,1079.56 1974.53,1078.27 1978.02,1077.03 1981.65,1075.83 1985.43,1074.69 1989.34,1073.6 1993.34,1072.59 1997.44,1071.64 2001.62,1070.76 2005.84,1069.96 2010.11,1069.24 2014.39,1068.6 2018.67,1068.05 2022.93,1067.58 2027.16,1067.21 2031.33,1066.93 2035.43,1066.74 2039.44,1066.64 2043.34,1066.64 2047.12,1066.73 2050.76,1066.91 2054.24,1067.19 2057.55,1067.56 2060.68,1068.02 2063.61,1068.57 2066.33,1069.21 2068.82,1069.92 2071.09,1070.72 2073.1,1071.59 2074.87,1072.54 2076.38,1073.55 2077.63,1074.63 2078.6,1075.77 2079.3,1076.97 2079.72,1078.21 2079.86,1079.5" fill="none" stroke="#e3ea82" stroke-width="3.8" stroke-linecap="butt" stroke-linejoin="round" />
<polyline points="1948.92,1111.8 1949.06,1110.47 1949.48,1109.11 1950.18,1107.72 1951.15,1106.31 1952.4,1104.89 1953.9,1103.45 1955.67,1102.02 1957.69,1100.58 1959.95,1099.15 1962.45,1097.74 1965.17,1096.35 1968.1,1094.99 1971.22,1093.66 1974.53,1092.37 1978.02,1091.13 1981.65,1089.93 1985.43,1088.79 1989.34,1087.7 1993.34,1086.69 1997.44,1085.74 2001.62,1084.86 2005.84,1084.06 2010.11,1083.34 2014.39,1082.7 2018.67,1082.15 2022.93,1081.68 2027.16,1081.31 2031.33,1081.03 2035.43,1080.84 2039.44,1080.74 2043.34,1080.74 2047.12,1080.83 2050.76,1081.01 2054.24,1081.29 2057.55,1081.66 2060.68,1082.12 2063.61,1082.67 2066.33,1083.31 2068.82,1084.02 2071.09,1084.82 2073.1,1085.69 2074.87,1086.64 2076.38,1087.65 2077.63,1088.73 2078.6,1089.87 2079.3,1091.07 2079.72,1092.31 2079.86,1093.6" fill="none" stroke="#d3c51c" stroke-width="10.5" stroke-linecap="butt" stroke-linejoin="round" />
<polyline points="1948.92,1111.8 1949.06,1110.47 1949.48,1109.11 1950.18,1107.72 1951.15,1106.31 1952.4,1104.89 1953.9,1103.45 1955.67,1102.02 1957.69,1100.58 1959.95,1099.15 1962.45,1097.74 1965.17,1096.35 1968.1,1094.99 1971.22,1093.66 1974.53,1092.37 1978.02,1091.13 1981.65,1089.93 1985.43,1088.79 1989.34,1087.7 1993.34,1086.69 1997.44,1085.74 2001.62,1084.86 2005.84,1084.06 2010.11,1083.34 2014.39,1082.7 2018.67,1082.15 2022.93,1081.68 2027.16,1081.31 2031.33,1081.03 2035.43,1080.84 2039.44,1080.74 2043.34,1080.74 2047.12,1080.83 2050.76,1081.01 2054.24,1081.29 2057.55,1081.66 2060.68,1082.12 2063.61,1082.67 2066.33,1083.31 2068.82,1084.02 2071.09,1084.82 2073.1,1085.69 2074.87,1086.64 2076.38,1087.65 2077.63,1088.73 2078.6,1089.87 2079.3,1091.07 2079.72,1092.31 2079.86,1093.6" fill="none" stroke="#dcd642" stroke-width="7" stroke-linecap="butt" stroke-linejoin="round" />
<polyline points="1948.92,1111.8 1949.06,1110.47 1949.48,1109.11 1950.18,1107.72 1951.15,1106.31 1952.4,1104.89 1953.9,1103.45 1955.67,1102.02 1957.69,1100.58 1959.95,1099.15 1962.45,1097.74 1965.17,1096.35 1968.1,1094.99 1971.22,1093.66 1974.53,1092.37 1978.02,1091.13 1981.65,1089.93 1985.43,1088.79 1989.34,1087.7 1993.34,1086.69 1997.44,1085.74 2001.62,1084.86 2005.84,1084.06 2010.11,1083.34 2014.39,1082.7 2018.67,1082.15 2022.93,1081.68 2027.16,1081.31 2031.33,1081.03 2035.43,1080.84 2039.44,1080.74 2043.34,1080.74 2047.12,1080.83 2050.76,1081.01 2054.24,1081.29 2057.55,1081.66 2060.68,1082.12 2063.61,1082.67 2066.33,1083.31 2068.82,1084.02 2071.09,1084.82 2073.1,1085.69 2074.87,1086.64 2076.38,1087.65 2077.63,1088.73 2078.6,1089.87 2079.3,1091.07 2079.72,1092.31 2079.86,1093.6" fill="none" stroke="#e3ea82" stroke-width="3.8" stroke-linecap="butt" stroke-linejoin="round" />
<polyline points="1948.92,1125.9 1949.06,1124.57 1949.48,1123.21 1950.18,1121.82 1951.15,1120.41 1952.4,1118.99 1953.9,1117.55 1955.67,1116.12 1957.69,1114.68 1959.95,1113.25 1962.45,1111.84 1965.17,1110.45 1968.1,1109.09 1971.22,1107.76 1974.53,1106.47 1978.02,1105.23 1981.65,1104.03 1985.43,1102.89 1989.34,1101.8 1993.34,1100.79 1997.44,1099.84 2001.62,1098.96 2005.84,1098.16 2010.11,1097.44 2014.39,1096.8 2018.67,1096.25 2022.93,1095.78 2027.16,1095.41 2031.33,1095.13 2035.43,1094.94 2039.44,1094.84 2043.34,1094.84 2047.12,1094.93 2050.76,1095.11 2054.24,1095.39 2057.55,1095.76 2060.68,1096.22 2063.61,1096.77 2066.33,1097.41 2068.82,1098.12 2071.09,1098.92 2073.1,1099.79 2074.87,1100.74 2076.38,1101.75 2077.63,1102.83 2078.6,1103.97 2079.3,1105.17 2079.72,1106.41 2079.86,1107.7" fill="none" stroke="#d3c51c" stroke-width="10.5" stroke-linecap="butt" stroke-linejoin="round" />
<polyline points="1948.92,1125.9 1949.06,1124.57 1949.48,1123.21 1950.18,1121.82 1951.15,1120.41 1952.4,1118.99 1953.9,1117.55 1955.67,1116.12 1957.69,1114.68 1959.95,1113.25 1962.45,1111.84 1965.17,1110.45 1968.1,1109.09 1971.22,1107.76 1974.53,1106.47 1978.02,1105.23 1981.65,1104.03 1985.43,1102.89 1989.34,1101.8 1993.34,1100.79 1997.44,1099.84 2001.62,1098.96 2005.84,1098.16 2010.11,1097.44 2014.39,1096.8 2018.67,1096.25 2022.93,1095.78 2027.16,1095.41 2031.33,1095.13 2035.43,1094.94 2039.44,1094.84 2043.34,1094.84 2047.12,1094.93 2050.76,1095.11 2054.24,1095.39 2057.55,1095.76 2060.68,1096.22 2063.61,1096.77 2066.33,1097.41 2068.82,1098.12 2071.09,1098.92 2073.1,1099.79 2074.87,1100.74 2076.38,1101.75 2077.63,1102.83 2078.6,1103.97 2079.3,1105.17 2079.72,1106.41 2079.86,1107.7" fill="none" stroke="#dcd642" stroke-width="7" stroke-linecap="butt" stroke-linejoin="round" />
<polyline points="1948.92,1125.9 1949.06,1124.57 1949.48,1123.21 1950.18,1121.82 1951.15,1120.41 1952.4,1118.99 1953.9,1117.55 1955.67,1116.12 1957.69,1114.68 1959.95,1113.25 1962.45,1111.84 1965.17,1110.45 1968.1,1109.09 1971.22,1107.76 1974.53,1106.47 1978.02,1105.23 1981.65,1104.03 1985.43,1102.89 1989.34,1101.8 1993.34,1100.79 1997.44,1099.84 2001.62,1098.96 2005.84,1098.16 2010.11,1097.44 2014.39,1096.8 2018.67,1096.25 2022.93,1095.78 2027.16,1095.41 2031.33,1095.13 2035.43,1094.94 2039.44,1094.84 2043.34,1094.84 2047.12,1094.93 2050.76,1095.11 2054.24,1095.39 2057.55,1095.76 2060.68,1096.22 2063.61,1096.77 2066.33,1097.41 2068.82,1098.12 2071.09,1098.92 2073.1,1099.79 2074.87,1100.74 2076.38,1101.75 2077.63,1102.83 2078.6,1103.97 2079.3,1105.17 2079.72,1106.41 2079.86,1107.7" fill="none" stroke="#e3ea82" stroke-width="3.8" stroke-linecap="butt" stroke-linejoin="round" />
<polyline points="1948.92,1140 1949.06,1138.67 1949.48,1137.31 1950.18,1135.92 1951.15,1134.51 1952.4,1133.09 1953.9,1131.65 1955.67,1130.22 1957.69,1128.78 1959.95,1127.35 1962.45,1125.94 1965.17,1124.55 1968.1,1123.19 1971.22,1121.86 1974.53,1120.57 1978.02,1119.33 1981.65,1118.13 1985.43,1116.99 1989.34,1115.9 1993.34,1114.89 1997.44,1113.94 2001.62,1113.06 2005.84,1112.26 2010.11,1111.54 2014.39,1110.9 2018.67,1110.35 2022.93,1109.88 2027.16,1109.51 2031.33,1109.23 2035.43,1109.04 2039.44,1108.94 2043.34,1108.94 2047.12,1109.03 2050.76,1109.21 2054.24,1109.49 2057.55,1109.86 2060.68,1110.32 2063.61,1110.87 2066.33,1111.51 2068.82,1112.22 2071.09,1113.02 2073.1,1113.89 2074.87,1114.84 2076.38,1115.85 2077.63,1116.93 2078.6,1118.07 2079.3,1119.27 2079.72,1120.51 2079.86,1121.8" fill="none" stroke="#d3c51c" stroke-width="10.5" stroke-linecap="butt" stroke-linejoin="round" />
<polyline points="1948.92,1140 1949.06,1138.67 1949.48,1137.31 1950.18,1135.92 1951.15,1134.51 1952.4,1133.09 1953.9,1131.65 1955.67,1130.22 1957.69,1128.78 1959.95,1127.35 1962.45,1125.94 1965.17,1124.55 1968.1,1123.19 1971.22,1121.86 1974.53,1120.57 1978.02,1119.33 1981.65,1118.13 1985.43,1116.99 1989.34,1115.9 1993.34,1114.89 1997.44,1113.94 2001.62,1113.06 2005.84,1112.26 2010.11,1111.54 2014.39,1110.9 2018.67,1110.35 2022.93,1109.88 2027.16,1109.51 2031.33,1109.23 2035.43,1109.04 2039.44,1108.94 2043.34,1108.94 2047.12,1109.03 2050.76,1109.21 2054.24,1109.49 2057.55,1109.86 2060.68,1110.32 2063.61,1110.87 2066.33,1111.51 2068.82,1112.22 2071.09,1113.02 2073.1,1113.89 2074.87,1114.84 2076.38,1115.85 2077.63,1116.93 2078.6,1118.07 2079.3,1119.27 2079.72,1120.51 2079.86,1121.8" fill="none" stroke="#dcd642" stroke-width="7" stroke-linecap="butt" stroke-linejoin="round" />
<polyline points="1948.92,1140 1949.06,1138.67 1949.48,1137.31 1950.18,1135.92 1951.15,1134.51 1952.4,1133.09 1953.9,1131.65 1955.67,1130.22 1957.69,1128.78 1959.95,1127.35 1962.45,1125.94 1965.17,1124.55 1968.1,1123.19 1971.22,1121.86 1974.53,1120.57 1978.02,1119.33 1981.65,1118.13 1985.43,1116.99 1989.34,1115.9 1993.34,1114.89 1997.44,1113.94 2001.62,1113.06 2005.84,1112.26 2010.11,1111.54 2014.39,1110.9 2018.67,1110.35 2022.93,1109.88 2027.16,1109.51 2031.33,1109.23 2035.43,1109.04 2039.44,1108.94 2043.34,1108.94 2047.12,1109.03 2050.76,1109.21 2054.24,1109.49 2057.55,1109.86 2060.68,1110.32 2063.61,1110.87 2066.33,1111.51 2068.82,1112.22 2071.09,1113.02 2073.1,1113.89 2074.87,1114.84 2076.38,1115.85 2077.63,1116.93 2078.6,1118.07 2079.3,1119.27 2079.72,1120.51 2079.86,1121.8" fill="none" stroke="#e3ea82" stroke-width="3.8" stroke-linecap="butt" stroke-linejoin="round" />
<polyline points="1948.92,1154.1 1949.06,1152.77 1949.48,1151.41 1950.18,1150.02 1951.15,1148.61 1952.4,1147.19 1953.9,1145.75 1955.67,1144.32 1957.69,1142.88 1959.95,1141.45 1962.45,1140.04 1965.17,1138.65 1968.1,1137.29 1971.22,1135.96 1974.53,1134.67 1978.02,1133.43 1981.65,1132.23 1985.43,1131.09 1989.34,1130 1993.34,1128.99 1997.44,1128.04 2001.62,1127.16 2005.84,1126.36 2010.11,1125.64 2014.39,1125 2018.67,1124.45 2022.93,1123.98 2027.16,1123.61 2031.33,1123.33 2035.43,1123.14 2039.44,1123.04 2043.34,1123.04 2047.12,1123.13 2050.76,1123.31 2054.24,1123.59 2057.55,1123.96 2060.68,1124.42 2063.61,1124.97 2066.33,1125.61 2068.82,1126.32 2071.09,1127.12 2073.1,1127.99 2074.87,1128.94 2076.38,1129.95 2077.63,1131.03 2078.6,1132.17 2079.3,1133.37 2079.72,1134.61 2079.86,1135.9" fill="none" stroke="#d3c51c" stroke-width="10.5" stroke-linecap="butt" stroke-linejoin="round" />
<polyline points="1948.92,1154.1 1949.06,1152.77 1949.48,1151.41 1950.18,1150.02 1951.15,1148.61 1952.4,1147.19 1953.9,1145.75 1955.67,1144.32 1957.69,1142.88 1959.95,1141.45 1962.45,1140.04 1965.17,1138.65 1968.1,1137.29 1971.22,1135.96 1974.53,1134.67 1978.02,1133.43 1981.65,1132.23 1985.43,1131.09 1989.34,1130 1993.34,1128.99 1997.44,1128.04 2001.62,1127.16 2005.84,1126.36 2010.11,1125.64 2014.39,1125 2018.67,1124.45 2022.93,1123.98 2027.16,1123.61 2031.33,1123.33 2035.43,1123.14 2039.44,1123.04 2043.34,1123.04 2047.12,1123.13 2050.76,1123.31 2054.24,1123.59 2057.55,1123.96 2060.68,1124.42 2063.61,1124.97 2066.33,1125.61 2068.82,1126.32 2071.09,1127.12 2073.1,1127.99 2074.87,1128.94 2076.38,1129.95 2077.63,1131.03 2078.6,1132.17 2079.3,1133.37 2079.72,1134.61 2079.86,1135.9" fill="none" stroke="#dcd642" stroke-width="7" stroke-linecap="butt" stroke-linejoin="round" />
<polyline points="1948.92,1154.1 1949.06,1152.77 1949.48,1151.41 1950.18,1150.02 1951.15,1148.61 1952.4,1147.19 1953.9,1145.75 1955.67,1144.32 1957.69,1142.88 1959.95,1141.45 1962.45,1140.04 1965.17,1138.65 1968.1,1137.29 1971.22,1135.96 1974.53,1134.67 1978.02,1133.43 1981.65,1132.23 1985.43,1131.09 1989.34,1130 1993.34,1128.99 1997.44,1128.04 2001.62,1127.16 2005.84,1126.36 2010.11,1125.64 2014.39,1125 2018.67,1124.45 2022.93,1123.98 2027.16,1123.61 2031.33,1123.33 2035.43,1123.14 2039.44,1123.04 2043.34,1123.04 2047.12,1123.13 2050.76,1123.31 2054.24,1123.59 2057.55,1123.96 2060.68,1124.42 2063.61,1124.97 2066.33,1125.61 2068.82,1126.32 2071.09,1127.12 2073.1,1127.99 2074.87,1128.94 2076.38,1129.95 2077.63,1131.03 2078.6,1132.17 2079.3,1133.37 2079.72,1134.61 2079.86,1135.9" fill="none" stroke="#e3ea82" stroke-width="3.8" stroke-linecap="butt" stroke-linejoin="round" />
<path d="M 1965.9,1040 L 1965.9,1182 C 1965.9,1217 2061.73,1217 2061.73,1182 L 2061.73,1040" fill="#ffffff" stroke="#2e4d4d" stroke-width="9.5" stroke-linecap="butt" stroke-linejoin="round" />
<ellipse cx="2013.53" cy="1004.5" rx="97.12" ry="42" fill="none" stroke="#2e4d4d" stroke-width="8.2" vector-effect="non-scaling-stroke"/>
<polyline points="2079.86,1065.4 2079.72,1066.73 2079.3,1068.09 2078.6,1069.48 2077.63,1070.89 2076.38,1072.31 2074.87,1073.75 2073.1,1075.18 2071.09,1076.62 2068.82,1078.05 2066.33,1079.46 2063.61,1080.85 2060.68,1082.21 2057.55,1083.54 2054.24,1084.83 2050.76,1086.07 2047.12,1087.27 2043.34,1088.41 2039.44,1089.5 2035.43,1090.51 2031.33,1091.46 2027.16,1092.34 2022.93,1093.14 2018.67,1093.86 2014.39,1094.5 2010.11,1095.05 2005.84,1095.52 2001.62,1095.89 1997.44,1096.17 1993.34,1096.36 1989.34,1096.46 1985.43,1096.46 1981.65,1096.37 1978.02,1096.19 1974.53,1095.91 1971.22,1095.54 1968.1,1095.08 1965.17,1094.53 1962.45,1093.89 1959.95,1093.18 1957.69,1092.38 1955.67,1091.51 1953.9,1090.56 1952.4,1089.55 1951.15,1088.47 1950.18,1087.33 1949.48,1086.13 1949.06,1084.89 1948.92,1083.6" fill="none" stroke="#d3c51c" stroke-width="10.5" stroke-linecap="butt" stroke-linejoin="round" />
<polyline points="2079.86,1065.4 2079.72,1066.73 2079.3,1068.09 2078.6,1069.48 2077.63,1070.89 2076.38,1072.31 2074.87,1073.75 2073.1,1075.18 2071.09,1076.62 2068.82,1078.05 2066.33,1079.46 2063.61,1080.85 2060.68,1082.21 2057.55,1083.54 2054.24,1084.83 2050.76,1086.07 2047.12,1087.27 2043.34,1088.41 2039.44,1089.5 2035.43,1090.51 2031.33,1091.46 2027.16,1092.34 2022.93,1093.14 2018.67,1093.86 2014.39,1094.5 2010.11,1095.05 2005.84,1095.52 2001.62,1095.89 1997.44,1096.17 1993.34,1096.36 1989.34,1096.46 1985.43,1096.46 1981.65,1096.37 1978.02,1096.19 1974.53,1095.91 1971.22,1095.54 1968.1,1095.08 1965.17,1094.53 1962.45,1093.89 1959.95,1093.18 1957.69,1092.38 1955.67,1091.51 1953.9,1090.56 1952.4,1089.55 1951.15,1088.47 1950.18,1087.33 1949.48,1086.13 1949.06,1084.89 1948.92,1083.6" fill="none" stroke="#dcd642" stroke-width="7" stroke-linecap="butt" stroke-linejoin="round" />
<polyline points="2079.86,1065.4 2079.72,1066.73 2079.3,1068.09 2078.6,1069.48 2077.63,1070.89 2076.38,1072.31 2074.87,1073.75 2073.1,1075.18 2071.09,1076.62 2068.82,1078.05 2066.33,1079.46 2063.61,1080.85 2060.68,1082.21 2057.55,1083.54 2054.24,1084.83 2050.76,1086.07 2047.12,1087.27 2043.34,1088.41 2039.44,1089.5 2035.43,1090.51 2031.33,1091.46 2027.16,1092.34 2022.93,1093.14 2018.67,1093.86 2014.39,1094.5 2010.11,1095.05 2005.84,1095.52 2001.62,1095.89 1997.44,1096.17 1993.34,1096.36 1989.34,1096.46 1985.43,1096.46 1981.65,1096.37 1978.02,1096.19 1974.53,1095.91 1971.22,1095.54 1968.1,1095.08 1965.17,1094.53 1962.45,1093.89 1959.95,1093.18 1957.69,1092.38 1955.67,1091.51 1953.9,1090.56 1952.4,1089.55 1951.15,1088.47 1950.18,1087.33 1949.48,1086.13 1949.06,1084.89 1948.92,1083.6" fill="none" stroke="#e3ea82" stroke-width="3.8" stroke-linecap="butt" stroke-linejoin="round" />
<polyline points="2079.86,1079.5 2079.72,1080.83 2079.3,1082.19 2078.6,1083.58 2077.63,1084.99 2076.38,1086.41 2074.87,1087.85 2073.1,1089.28 2071.09,1090.72 2068.82,1092.15 2066.33,1093.56 2063.61,1094.95 2060.68,1096.31 2057.55,1097.64 2054.24,1098.93 2050.76,1100.17 2047.12,1101.37 2043.34,1102.51 2039.44,1103.6 2035.43,1104.61 2031.33,1105.56 2027.16,1106.44 2022.93,1107.24 2018.67,1107.96 2014.39,1108.6 2010.11,1109.15 2005.84,1109.62 2001.62,1109.99 1997.44,1110.27 1993.34,1110.46 1989.34,1110.56 1985.43,1110.56 1981.65,1110.47 1978.02,1110.29 1974.53,1110.01 1971.22,1109.64 1968.1,1109.18 1965.17,1108.63 1962.45,1107.99 1959.95,1107.28 1957.69,1106.48 1955.67,1105.61 1953.9,1104.66 1952.4,1103.65 1951.15,1102.57 1950.18,1101.43 1949.48,1100.23 1949.06,1098.99 1948.92,1097.7" fill="none" stroke="#d3c51c" stroke-width="10.5" stroke-linecap="butt" stroke-linejoin="round" />
<polyline points="2079.86,1079.5 2079.72,1080.83 2079.3,1082.19 2078.6,1083.58 2077.63,1084.99 2076.38,1086.41 2074.87,1087.85 2073.1,1089.28 2071.09,1090.72 2068.82,1092.15 2066.33,1093.56 2063.61,1094.95 2060.68,1096.31 2057.55,1097.64 2054.24,1098.93 2050.76,1100.17 2047.12,1101.37 2043.34,1102.51 2039.44,1103.6 2035.43,1104.61 2031.33,1105.56 2027.16,1106.44 2022.93,1107.24 2018.67,1107.96 2014.39,1108.6 2010.11,1109.15 2005.84,1109.62 2001.62,1109.99 1997.44,1110.27 1993.34,1110.46 1989.34,1110.56 1985.43,1110.56 1981.65,1110.47 1978.02,1110.29 1974.53,1110.01 1971.22,1109.64 1968.1,1109.18 1965.17,1108.63 1962.45,1107.99 1959.95,1107.28 1957.69,1106.48 1955.67,1105.61 1953.9,1104.66 1952.4,1103.65 1951.15,1102.57 1950.18,1101.43 1949.48,1100.23 1949.06,1098.99 1948.92,1097.7" fill="none" stroke="#dcd642" stroke-width="7" stroke-linecap="butt" stroke-linejoin="round" />
<polyline points="2079.86,1079.5 2079.72,1080.83 2079.3,1082.19 2078.6,1083.58 2077.63,1084.99 2076.38,1086.41 2074.87,1087.85 2073.1,1089.28 2071.09,1090.72 2068.82,1092.15 2066.33,1093.56 2063.61,1094.95 2060.68,1096.31 2057.55,1097.64 2054.24,1098.93 2050.76,1100.17 2047.12,1101.37 2043.34,1102.51 2039.44,1103.6 2035.43,1104.61 2031.33,1105.56 2027.16,1106.44 2022.93,1107.24 2018.67,1107.96 2014.39,1108.6 2010.11,1109.15 2005.84,1109.62 2001.62,1109.99 1997.44,1110.27 1993.34,1110.46 1989.34,1110.56 1985.43,1110.56 1981.65,1110.47 1978.02,1110.29 1974.53,1110.01 1971.22,1109.64 1968.1,1109.18 1965.17,1108.63 1962.45,1107.99 1959.95,1107.28 1957.69,1106.48 1955.67,1105.61 1953.9,1104.66 1952.4,1103.65 1951.15,1102.57 1950.18,1101.43 1949.48,1100.23 1949.06,1098.99 1948.92,1097.7" fill="none" stroke="#e3ea82" stroke-width="3.8" stroke-linecap="butt" stroke-linejoin="round" />
<polyline points="2079.86,1093.6 2079.72,1094.93 2079.3,1096.29 2078.6,1097.68 2077.63,1099.09 2076.38,1100.51 2074.87,1101.95 2073.1,1103.38 2071.09,1104.82 2068.82,1106.25 2066.33,1107.66 2063.61,1109.05 2060.68,1110.41 2057.55,1111.74 2054.24,1113.03 2050.76,1114.27 2047.12,1115.47 2043.34,1116.61 2039.44,1117.7 2035.43,1118.71 2031.33,1119.66 2027.16,1120.54 2022.93,1121.34 2018.67,1122.06 2014.39,1122.7 2010.11,1123.25 2005.84,1123.72 2001.62,1124.09 1997.44,1124.37 1993.34,1124.56 1989.34,1124.66 1985.43,1124.66 1981.65,1124.57 1978.02,1124.39 1974.53,1124.11 1971.22,1123.74 1968.1,1123.28 1965.17,1122.73 1962.45,1122.09 1959.95,1121.38 1957.69,1120.58 1955.67,1119.71 1953.9,1118.76 1952.4,1117.75 1951.15,1116.67 1950.18,1115.53 1949.48,1114.33 1949.06,1113.09 1948.92,1111.8" fill="none" stroke="#d3c51c" stroke-width="10.5" stroke-linecap="butt" stroke-linejoin="round" />
<polyline points="2079.86,1093.6 2079.72,1094.93 2079.3,1096.29 2078.6,1097.68 2077.63,1099.09 2076.38,1100.51 2074.87,1101.95 2073.1,1103.38 2071.09,1104.82 2068.82,1106.25 2066.33,1107.66 2063.61,1109.05 2060.68,1110.41 2057.55,1111.74 2054.24,1113.03 2050.76,1114.27 2047.12,1115.47 2043.34,1116.61 2039.44,1117.7 2035.43,1118.71 2031.33,1119.66 2027.16,1120.54 2022.93,1121.34 2018.67,1122.06 2014.39,1122.7 2010.11,1123.25 2005.84,1123.72 2001.62,1124.09 1997.44,1124.37 1993.34,1124.56 1989.34,1124.66 1985.43,1124.66 1981.65,1124.57 1978.02,1124.39 1974.53,1124.11 1971.22,1123.74 1968.1,1123.28 1965.17,1122.73 1962.45,1122.09 1959.95,1121.38 1957.69,1120.58 1955.67,1119.71 1953.9,1118.76 1952.4,1117.75 1951.15,1116.67 1950.18,1115.53 1949.48,1114.33 1949.06,1113.09 1948.92,1111.8" fill="none" stroke="#dcd642" stroke-width="7" stroke-linecap="butt" stroke-linejoin="round" />
<polyline points="2079.86,1093.6 2079.72,1094.93 2079.3,1096.29 2078.6,1097.68 2077.63,1099.09 2076.38,1100.51 2074.87,1101.95 2073.1,1103.38 2071.09,1104.82 2068.82,1106.25 2066.33,1107.66 2063.61,1109.05 2060.68,1110.41 2057.55,1111.74 2054.24,1113.03 2050.76,1114.27 2047.12,1115.47 2043.34,1116.61 2039.44,1117.7 2035.43,1118.71 2031.33,1119.66 2027.16,1120.54 2022.93,1121.34 2018.67,1122.06 2014.39,1122.7 2010.11,1123.25 2005.84,1123.72 2001.62,1124.09 1997.44,1124.37 1993.34,1124.56 1989.34,1124.66 1985.43,1124.66 1981.65,1124.57 1978.02,1124.39 1974.53,1124.11 1971.22,1123.74 1968.1,1123.28 1965.17,1122.73 1962.45,1122.09 1959.95,1121.38 1957.69,1120.58 1955.67,1119.71 1953.9,1118.76 1952.4,1117.75 1951.15,1116.67 1950.18,1115.53 1949.48,1114.33 1949.06,1113.09 1948.92,1111.8" fill="none" stroke="#e3ea82" stroke-width="3.8" stroke-linecap="butt" stroke-linejoin="round" />
<polyline points="2079.86,1107.7 2079.72,1109.03 2079.3,1110.39 2078.6,1111.78 2077.63,1113.19 2076.38,1114.61 2074.87,1116.05 2073.1,1117.48 2071.09,1118.92 2068.82,1120.35 2066.33,1121.76 2063.61,1123.15 2060.68,1124.51 2057.55,1125.84 2054.24,1127.13 2050.76,1128.37 2047.12,1129.57 2043.34,1130.71 2039.44,1131.8 2035.43,1132.81 2031.33,1133.76 2027.16,1134.64 2022.93,1135.44 2018.67,1136.16 2014.39,1136.8 2010.11,1137.35 2005.84,1137.82 2001.62,1138.19 1997.44,1138.47 1993.34,1138.66 1989.34,1138.76 1985.43,1138.76 1981.65,1138.67 1978.02,1138.49 1974.53,1138.21 1971.22,1137.84 1968.1,1137.38 1965.17,1136.83 1962.45,1136.19 1959.95,1135.48 1957.69,1134.68 1955.67,1133.81 1953.9,1132.86 1952.4,1131.85 1951.15,1130.77 1950.18,1129.63 1949.48,1128.43 1949.06,1127.19 1948.92,1125.9" fill="none" stroke="#d3c51c" stroke-width="10.5" stroke-linecap="butt" stroke-linejoin="round" />
<polyline points="2079.86,1107.7 2079.72,1109.03 2079.3,1110.39 2078.6,1111.78 2077.63,1113.19 2076.38,1114.61 2074.87,1116.05 2073.1,1117.48 2071.09,1118.92 2068.82,1120.35 2066.33,1121.76 2063.61,1123.15 2060.68,1124.51 2057.55,1125.84 2054.24,1127.13 2050.76,1128.37 2047.12,1129.57 2043.34,1130.71 2039.44,1131.8 2035.43,1132.81 2031.33,1133.76 2027.16,1134.64 2022.93,1135.44 2018.67,1136.16 2014.39,1136.8 2010.11,1137.35 2005.84,1137.82 2001.62,1138.19 1997.44,1138.47 1993.34,1138.66 1989.34,1138.76 1985.43,1138.76 1981.65,1138.67 1978.02,1138.49 1974.53,1138.21 1971.22,1137.84 1968.1,1137.38 1965.17,1136.83 1962.45,1136.19 1959.95,1135.48 1957.69,1134.68 1955.67,1133.81 1953.9,1132.86 1952.4,1131.85 1951.15,1130.77 1950.18,1129.63 1949.48,1128.43 1949.06,1127.19 1948.92,1125.9" fill="none" stroke="#dcd642" stroke-width="7" stroke-linecap="butt" stroke-linejoin="round" />
<polyline points="2079.86,1107.7 2079.72,1109.03 2079.3,1110.39 2078.6,1111.78 2077.63,1113.19 2076.38,1114.61 2074.87,1116.05 2073.1,1117.48 2071.09,1118.92 2068.82,1120.35 2066.33,1121.76 2063.61,1123.15 2060.68,1124.51 2057.55,1125.84 2054.24,1127.13 2050.76,1128.37 2047.12,1129.57 2043.34,1130.71 2039.44,1131.8 2035.43,1132.81 2031.33,1133.76 2027.16,1134.64 2022.93,1135.44 2018.67,1136.16 2014.39,1136.8 2010.11,1137.35 2005.84,1137.82 2001.62,1138.19 1997.44,1138.47 1993.34,1138.66 1989.34,1138.76 1985.43,1138.76 1981.65,1138.67 1978.02,1138.49 1974.53,1138.21 1971.22,1137.84 1968.1,1137.38 1965.17,1136.83 1962.45,1136.19 1959.95,1135.48 1957.69,1134.68 1955.67,1133.81 1953.9,1132.86 1952.4,1131.85 1951.15,1130.77 1950.18,1129.63 1949.48,1128.43 1949.06,1127.19 1948.92,1125.9" fill="none" stroke="#e3ea82" stroke-width="3.8" stroke-linecap="butt" stroke-linejoin="round" />
<polyline points="2079.86,1121.8 2079.72,1123.13 2079.3,1124.49 2078.6,1125.88 2077.63,1127.29 2076.38,1128.71 2074.87,1130.15 2073.1,1131.58 2071.09,1133.02 2068.82,1134.45 2066.33,1135.86 2063.61,1137.25 2060.68,1138.61 2057.55,1139.94 2054.24,1141.23 2050.76,1142.47 2047.12,1143.67 2043.34,1144.81 2039.44,1145.9 2035.43,1146.91 2031.33,1147.86 2027.16,1148.74 2022.93,1149.54 2018.67,1150.26 2014.39,1150.9 2010.11,1151.45 2005.84,1151.92 2001.62,1152.29 1997.44,1152.57 1993.34,1152.76 1989.34,1152.86 1985.43,1152.86 1981.65,1152.77 1978.02,1152.59 1974.53,1152.31 1971.22,1151.94 1968.1,1151.48 1965.17,1150.93 1962.45,1150.29 1959.95,1149.58 1957.69,1148.78 1955.67,1147.91 1953.9,1146.96 1952.4,1145.95 1951.15,1144.87 1950.18,1143.73 1949.48,1142.53 1949.06,1141.29 1948.92,1140" fill="none" stroke="#d3c51c" stroke-width="10.5" stroke-linecap="butt" stroke-linejoin="round" />
<polyline points="2079.86,1121.8 2079.72,1123.13 2079.3,1124.49 2078.6,1125.88 2077.63,1127.29 2076.38,1128.71 2074.87,1130.15 2073.1,1131.58 2071.09,1133.02 2068.82,1134.45 2066.33,1135.86 2063.61,1137.25 2060.68,1138.61 2057.55,1139.94 2054.24,1141.23 2050.76,1142.47 2047.12,1143.67 2043.34,1144.81 2039.44,1145.9 2035.43,1146.91 2031.33,1147.86 2027.16,1148.74 2022.93,1149.54 2018.67,1150.26 2014.39,1150.9 2010.11,1151.45 2005.84,1151.92 2001.62,1152.29 1997.44,1152.57 1993.34,1152.76 1989.34,1152.86 1985.43,1152.86 1981.65,1152.77 1978.02,1152.59 1974.53,1152.31 1971.22,1151.94 1968.1,1151.48 1965.17,1150.93 1962.45,1150.29 1959.95,1149.58 1957.69,1148.78 1955.67,1147.91 1953.9,1146.96 1952.4,1145.95 1951.15,1144.87 1950.18,1143.73 1949.48,1142.53 1949.06,1141.29 1948.92,1140" fill="none" stroke="#dcd642" stroke-width="7" stroke-linecap="butt" stroke-linejoin="round" />
<polyline points="2079.86,1121.8 2079.72,1123.13 2079.3,1124.49 2078.6,1125.88 2077.63,1127.29 2076.38,1128.71 2074.87,1130.15 2073.1,1131.58 2071.09,1133.02 2068.82,1134.45 2066.33,1135.86 2063.61,1137.25 2060.68,1138.61 2057.55,1139.94 2054.24,1141.23 2050.76,1142.47 2047.12,1143.67 2043.34,1144.81 2039.44,1145.9 2035.43,1146.91 2031.33,1147.86 2027.16,1148.74 2022.93,1149.54 2018.67,1150.26 2014.39,1150.9 2010.11,1151.45 2005.84,1151.92 2001.62,1152.29 1997.44,1152.57 1993.34,1152.76 1989.34,1152.86 1985.43,1152.86 1981.65,1152.77 1978.02,1152.59 1974.53,1152.31 1971.22,1151.94 1968.1,1151.48 1965.17,1150.93 1962.45,1150.29 1959.95,1149.58 1957.69,1148.78 1955.67,1147.91 1953.9,1146.96 1952.4,1145.95 1951.15,1144.87 1950.18,1143.73 1949.48,1142.53 1949.06,1141.29 1948.92,1140" fill="none" stroke="#e3ea82" stroke-width="3.8" stroke-linecap="butt" stroke-linejoin="round" />
<polyline points="2079.86,1135.9 2079.72,1137.23 2079.3,1138.59 2078.6,1139.98 2077.63,1141.39 2076.38,1142.81 2074.87,1144.25 2073.1,1145.68 2071.09,1147.12 2068.82,1148.55 2066.33,1149.96 2063.61,1151.35 2060.68,1152.71 2057.55,1154.04 2054.24,1155.33 2050.76,1156.57 2047.12,1157.77 2043.34,1158.91 2039.44,1160 2035.43,1161.01 2031.33,1161.96 2027.16,1162.84 2022.93,1163.64 2018.67,1164.36 2014.39,1165 2010.11,1165.55 2005.84,1166.02 2001.62,1166.39 1997.44,1166.67 1993.34,1166.86 1989.34,1166.96 1985.43,1166.96 1981.65,1166.87 1978.02,1166.69 1974.53,1166.41 1971.22,1166.04 1968.1,1165.58 1965.17,1165.03 1962.45,1164.39 1959.95,1163.68 1957.69,1162.88 1955.67,1162.01 1953.9,1161.06 1952.4,1160.05 1951.15,1158.97 1950.18,1157.83 1949.48,1156.63 1949.06,1155.39 1948.92,1154.1" fill="none" stroke="#d3c51c" stroke-width="10.5" stroke-linecap="butt" stroke-linejoin="round" />
<polyline points="2079.86,1135.9 2079.72,1137.23 2079.3,1138.59 2078.6,1139.98 2077.63,1141.39 2076.38,1142.81 2074.87,1144.25 2073.1,1145.68 2071.09,1147.12 2068.82,1148.55 2066.33,1149.96 2063.61,1151.35 2060.68,1152.71 2057.55,1154.04 2054.24,1155.33 2050.76,1156.57 2047.12,1157.77 2043.34,1158.91 2039.44,1160 2035.43,1161.01 2031.33,1161.96 2027.16,1162.84 2022.93,1163.64 2018.67,1164.36 2014.39,1165 2010.11,1165.55 2005.84,1166.02 2001.62,1166.39 1997.44,1166.67 1993.34,1166.86 1989.34,1166.96 1985.43,1166.96 1981.65,1166.87 1978.02,1166.69 1974.53,1166.41 1971.22,1166.04 1968.1,1165.58 1965.17,1165.03 1962.45,1164.39 1959.95,1163.68 1957.69,1162.88 1955.67,1162.01 1953.9,1161.06 1952.4,1160.05 1951.15,1158.97 1950.18,1157.83 1949.48,1156.63 1949.06,1155.39 1948.92,1154.1" fill="none" stroke="#dcd642" stroke-width="7" stroke-linecap="butt" stroke-linejoin="round" />
<polyline points="2079.86,1135.9 2079.72,1137.23 2079.3,1138.59 2078.6,1139.98 2077.63,1141.39 2076.38,1142.81 2074.87,1144.25 2073.1,1145.68 2071.09,1147.12 2068.82,1148.55 2066.33,1149.96 2063.61,1151.35 2060.68,1152.71 2057.55,1154.04 2054.24,1155.33 2050.76,1156.57 2047.12,1157.77 2043.34,1158.91 2039.44,1160 2035.43,1161.01 2031.33,1161.96 2027.16,1162.84 2022.93,1163.64 2018.67,1164.36 2014.39,1165 2010.11,1165.55 2005.84,1166.02 2001.62,1166.39 1997.44,1166.67 1993.34,1166.86 1989.34,1166.96 1985.43,1166.96 1981.65,1166.87 1978.02,1166.69 1974.53,1166.41 1971.22,1166.04 1968.1,1165.58 1965.17,1165.03 1962.45,1164.39 1959.95,1163.68 1957.69,1162.88 1955.67,1162.01 1953.9,1161.06 1952.4,1160.05 1951.15,1158.97 1950.18,1157.83 1949.48,1156.63 1949.06,1155.39 1948.92,1154.1" fill="none" stroke="#e3ea82" stroke-width="3.8" stroke-linecap="butt" stroke-linejoin="round" />
<polyline points="1611.51,1080.4 2007.19,1080.4 2016.21,1079.85 2025.07,1078.98 2033.62,1077.81 2041.73,1076.35 2049.24,1074.65 2056.03,1072.71 2061.99,1070.59 2067.01,1068.3 2071,1065.9 2073.91,1063.42 2075.67,1060.91 2076.26,1058.4 2075.67,1055.95 2073.91,1053.58 2071,1051.36 2067.01,1049.3 2061.99,1047.45 2056.03,1045.84" fill="none" stroke="#d3c51c" stroke-width="10.5" stroke-linecap="butt" stroke-linejoin="round" />
<polyline points="1611.51,1080.4 2007.19,1080.4 2016.21,1079.85 2025.07,1078.98 2033.62,1077.81 2041.73,1076.35 2049.24,1074.65 2056.03,1072.71 2061.99,1070.59 2067.01,1068.3 2071,1065.9 2073.91,1063.42 2075.67,1060.91 2076.26,1058.4 2075.67,1055.95 2073.91,1053.58 2071,1051.36 2067.01,1049.3 2061.99,1047.45 2056.03,1045.84" fill="none" stroke="#dcd642" stroke-width="7" stroke-linecap="butt" stroke-linejoin="round" />
<polyline points="1611.51,1080.4 2007.19,1080.4 2016.21,1079.85 2025.07,1078.98 2033.62,1077.81 2041.73,1076.35 2049.24,1074.65 2056.03,1072.71 2061.99,1070.59 2067.01,1068.3 2071,1065.9 2073.91,1063.42 2075.67,1060.91 2076.26,1058.4 2075.67,1055.95 2073.91,1053.58 2071,1051.36 2067.01,1049.3 2061.99,1047.45 2056.03,1045.84" fill="none" stroke="#e3ea82" stroke-width="3.8" stroke-linecap="butt" stroke-linejoin="round" />
<polyline points="1948.92,1163 1948.96,1163.65 1949.06,1164.31 1949.24,1164.96 1949.48,1165.61 1949.8,1166.26 1950.18,1166.9 1950.63,1167.54 1951.15,1168.18 1951.74,1168.81 1952.4,1169.43 1953.12,1170.05 1953.9,1170.65 1954.76,1171.25 1955.67,1171.85 1956.65,1172.43 1957.69,1173 1958.79,1173.56 1959.95,1174.11 1961.17,1174.65 1962.45,1175.18 1963.78,1175.69 1965.17,1176.19 1966.61,1176.67 1968.1,1177.14 1969.64,1177.6 1971.22,1178.04 1972.86,1178.46 1974.53,1178.87 1976.26,1179.26 1978.02,1179.63 1979.82,1179.98 1981.65,1180.32 1983.53,1180.64 1985.43,1180.94 1987.37,1181.22 1989.34,1181.48 1991.33,1181.72 1993.34,1181.94 1995.38,1182.14 1997.44,1182.32 1999.52,1182.48 2001.62,1182.62 2003.72,1182.73 2005.84,1182.83 2007.97,1182.9 2010.11,1182.96 2012.25,1182.99 2014.39,1183 2217.27,1183" fill="none" stroke="#d3c51c" stroke-width="10.5" stroke-linecap="butt" stroke-linejoin="round" />
<polyline points="1948.92,1163 1948.96,1163.65 1949.06,1164.31 1949.24,1164.96 1949.48,1165.61 1949.8,1166.26 1950.18,1166.9 1950.63,1167.54 1951.15,1168.18 1951.74,1168.81 1952.4,1169.43 1953.12,1170.05 1953.9,1170.65 1954.76,1171.25 1955.67,1171.85 1956.65,1172.43 1957.69,1173 1958.79,1173.56 1959.95,1174.11 1961.17,1174.65 1962.45,1175.18 1963.78,1175.69 1965.17,1176.19 1966.61,1176.67 1968.1,1177.14 1969.64,1177.6 1971.22,1178.04 1972.86,1178.46 1974.53,1178.87 1976.26,1179.26 1978.02,1179.63 1979.82,1179.98 1981.65,1180.32 1983.53,1180.64 1985.43,1180.94 1987.37,1181.22 1989.34,1181.48 1991.33,1181.72 1993.34,1181.94 1995.38,1182.14 1997.44,1182.32 1999.52,1182.48 2001.62,1182.62 2003.72,1182.73 2005.84,1182.83 2007.97,1182.9 2010.11,1182.96 2012.25,1182.99 2014.39,1183 2217.27,1183" fill="none" stroke="#dcd642" stroke-width="7" stroke-linecap="butt" stroke-linejoin="round" />
<polyline points="1948.92,1163 1948.96,1163.65 1949.06,1164.31 1949.24,1164.96 1949.48,1165.61 1949.8,1166.26 1950.18,1166.9 1950.63,1167.54 1951.15,1168.18 1951.74,1168.81 1952.4,1169.43 1953.12,1170.05 1953.9,1170.65 1954.76,1171.25 1955.67,1171.85 1956.65,1172.43 1957.69,1173 1958.79,1173.56 1959.95,1174.11 1961.17,1174.65 1962.45,1175.18 1963.78,1175.69 1965.17,1176.19 1966.61,1176.67 1968.1,1177.14 1969.64,1177.6 1971.22,1178.04 1972.86,1178.46 1974.53,1178.87 1976.26,1179.26 1978.02,1179.63 1979.82,1179.98 1981.65,1180.32 1983.53,1180.64 1985.43,1180.94 1987.37,1181.22 1989.34,1181.48 1991.33,1181.72 1993.34,1181.94 1995.38,1182.14 1997.44,1182.32 1999.52,1182.48 2001.62,1182.62 2003.72,1182.73 2005.84,1182.83 2007.97,1182.9 2010.11,1182.96 2012.25,1182.99 2014.39,1183 2217.27,1183" fill="none" stroke="#e3ea82" stroke-width="3.8" stroke-linecap="butt" stroke-linejoin="round" />
<rect x="1686.33" y="1064" width="109.78" height="34" fill="#6a767f" fill-opacity="0.92"/>
<text transform="translate(77.55,1194) scale(1,1)" font-size="58" fill="#000">SNSPD</text>
<text transform="translate(78.27,1194) scale(1,1)" font-size="58" fill="#000">SNSPD</text>
<text transform="translate(982.48,933.4) scale(1.01,1)" font-size="58" fill="#000">Filtering</text>
<text transform="translate(983.2,933.4) scale(1.01,1)" font-size="58" fill="#000">Filtering</text>
<text transform="translate(982.49,1001) scale(1,1)" font-size="58" fill="#000">Module</text>
<text transform="translate(983.21,1001) scale(1,1)" font-size="58" fill="#000">Module</text>
<text transform="translate(1877.92,933.8) scale(1,1)" font-size="58" fill="#000">Fiber Spools</text>
<text transform="translate(1878.64,933.8) scale(1,1)" font-size="58" fill="#000">Fiber Spools</text>
<text transform="translate(1610.11,1168.3) scale(1,1)" font-size="58" fill="#000">Polarisation</text>
<text transform="translate(1610.83,1168.3) scale(1,1)" font-size="58" fill="#000">Polarisation</text>
<text transform="translate(1611.94,1235.6) scale(1,1)" font-size="58" fill="#000">Controller</text>
<text transform="translate(1612.66,1235.6) scale(1,1)" font-size="58" fill="#000">Controller</text>
</g>
</svg>
</body></html>
